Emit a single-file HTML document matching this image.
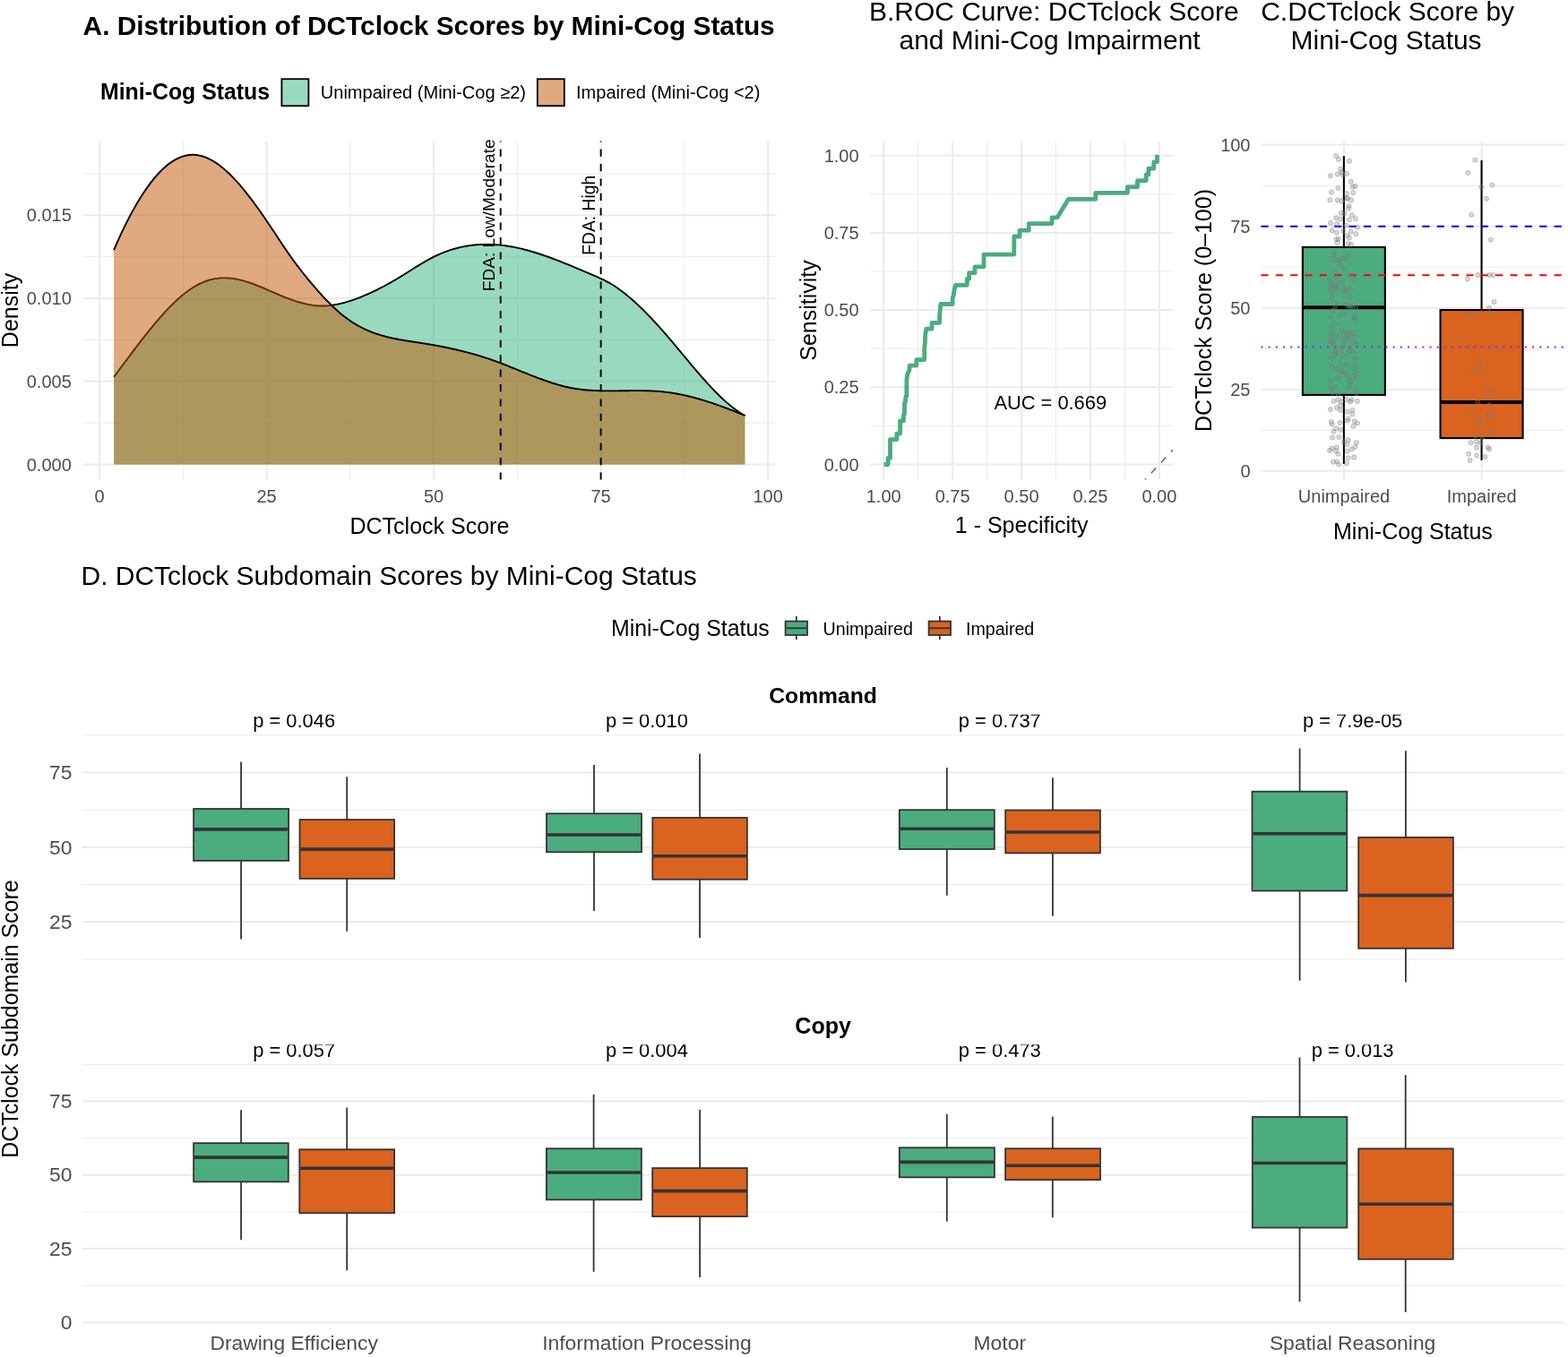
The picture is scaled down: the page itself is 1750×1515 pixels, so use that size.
<!DOCTYPE html>
<html><head><meta charset="utf-8"><title>DCTclock figure</title>
<style>html,body{margin:0;padding:0;background:#fff;} svg{display:block;} text{font-family:"Liberation Sans", Arial, Helvetica, sans-serif;}</style>
</head><body>
<svg width="1750" height="1515" viewBox="0 0 1750 1515" font-family='"Liberation Sans", Arial, Helvetica, sans-serif'>
<rect x="0" y="0" width="1750" height="1515" fill="#FFFFFF"/>
<line x1="204.35" y1="157.4" x2="204.35" y2="535.6" stroke="#EBEBEB" stroke-width="1.0"/>
<line x1="390.85" y1="157.4" x2="390.85" y2="535.6" stroke="#EBEBEB" stroke-width="1.0"/>
<line x1="577.35" y1="157.4" x2="577.35" y2="535.6" stroke="#EBEBEB" stroke-width="1.0"/>
<line x1="763.85" y1="157.4" x2="763.85" y2="535.6" stroke="#EBEBEB" stroke-width="1.0"/>
<line x1="92.3" y1="472.13" x2="866.5" y2="472.13" stroke="#EBEBEB" stroke-width="1.0"/>
<line x1="92.3" y1="379.4" x2="866.5" y2="379.4" stroke="#EBEBEB" stroke-width="1.0"/>
<line x1="92.3" y1="286.67" x2="866.5" y2="286.67" stroke="#EBEBEB" stroke-width="1.0"/>
<line x1="92.3" y1="193.94" x2="866.5" y2="193.94" stroke="#EBEBEB" stroke-width="1.0"/>
<line x1="111.1" y1="157.4" x2="111.1" y2="535.6" stroke="#EBEBEB" stroke-width="2.0"/>
<line x1="297.6" y1="157.4" x2="297.6" y2="535.6" stroke="#EBEBEB" stroke-width="2.0"/>
<line x1="484.1" y1="157.4" x2="484.1" y2="535.6" stroke="#EBEBEB" stroke-width="2.0"/>
<line x1="670.6" y1="157.4" x2="670.6" y2="535.6" stroke="#EBEBEB" stroke-width="2.0"/>
<line x1="857.1" y1="157.4" x2="857.1" y2="535.6" stroke="#EBEBEB" stroke-width="2.0"/>
<line x1="92.3" y1="518.5" x2="866.5" y2="518.5" stroke="#EBEBEB" stroke-width="2.0"/>
<line x1="92.3" y1="425.77" x2="866.5" y2="425.77" stroke="#EBEBEB" stroke-width="2.0"/>
<line x1="92.3" y1="333.04" x2="866.5" y2="333.04" stroke="#EBEBEB" stroke-width="2.0"/>
<line x1="92.3" y1="240.31" x2="866.5" y2="240.31" stroke="#EBEBEB" stroke-width="2.0"/>
<path d="M127.1,420.72 L129.46,417.59 L131.81,414.45 L134.17,411.3 L136.52,408.15 L138.88,404.99 L141.23,401.84 L143.59,398.7 L145.94,395.56 L148.3,392.43 L150.66,389.32 L153.01,386.22 L155.37,383.15 L157.72,380.1 L160.08,377.07 L162.43,374.08 L164.79,371.12 L167.14,368.19 L169.5,365.3 L171.85,362.45 L174.21,359.65 L176.57,356.89 L178.92,354.19 L181.28,351.53 L183.63,348.94 L185.99,346.4 L188.34,343.93 L190.7,341.52 L193.05,339.18 L195.41,336.91 L197.77,334.72 L200.12,332.61 L202.48,330.57 L204.83,328.62 L207.19,326.75 L209.54,324.98 L211.9,323.29 L214.25,321.71 L216.61,320.22 L218.97,318.83 L221.32,317.55 L223.68,316.38 L226.03,315.31 L228.39,314.36 L230.74,313.51 L233.1,312.77 L235.45,312.14 L237.81,311.6 L240.16,311.16 L242.52,310.82 L244.88,310.57 L247.23,310.41 L249.59,310.34 L251.94,310.35 L254.3,310.44 L256.65,310.62 L259.01,310.87 L261.36,311.2 L263.72,311.59 L266.08,312.06 L268.43,312.6 L270.79,313.2 L273.14,313.86 L275.5,314.57 L277.85,315.34 L280.21,316.15 L282.56,317 L284.92,317.89 L287.28,318.82 L289.63,319.77 L291.99,320.75 L294.34,321.74 L296.7,322.76 L299.05,323.78 L301.41,324.8 L303.76,325.83 L306.12,326.86 L308.47,327.87 L310.83,328.88 L313.19,329.87 L315.54,330.84 L317.9,331.78 L320.25,332.71 L322.61,333.6 L324.96,334.46 L327.32,335.29 L329.67,336.08 L332.03,336.82 L334.39,337.53 L336.74,338.19 L339.1,338.79 L341.45,339.35 L343.81,339.85 L346.16,340.29 L348.52,340.67 L350.87,340.98 L353.23,341.22 L355.59,341.4 L357.94,341.5 L360.3,341.52 L362.65,341.47 L365.01,341.34 L367.36,341.14 L369.72,340.88 L372.07,340.55 L374.43,340.15 L376.78,339.7 L379.14,339.19 L381.5,338.63 L383.85,338.02 L386.21,337.35 L388.56,336.65 L390.92,335.9 L393.27,335.11 L395.63,334.28 L397.98,333.42 L400.34,332.53 L402.7,331.6 L405.05,330.65 L407.41,329.66 L409.76,328.65 L412.12,327.6 L414.47,326.53 L416.83,325.42 L419.18,324.29 L421.54,323.13 L423.9,321.95 L426.25,320.73 L428.61,319.49 L430.96,318.22 L433.32,316.93 L435.67,315.61 L438.03,314.27 L440.38,312.9 L442.74,311.51 L445.09,310.1 L447.45,308.66 L449.81,307.2 L452.16,305.73 L454.52,304.24 L456.87,302.75 L459.23,301.26 L461.58,299.77 L463.94,298.29 L466.29,296.83 L468.65,295.38 L471.01,293.96 L473.36,292.56 L475.72,291.2 L478.07,289.88 L480.43,288.61 L482.78,287.38 L485.14,286.2 L487.49,285.08 L489.85,284.02 L492.21,283 L494.56,282.04 L496.92,281.13 L499.27,280.27 L501.63,279.46 L503.98,278.7 L506.34,278 L508.69,277.33 L511.05,276.72 L513.41,276.16 L515.76,275.64 L518.12,275.17 L520.47,274.74 L522.83,274.36 L525.18,274.02 L527.54,273.73 L529.89,273.48 L532.25,273.27 L534.6,273.11 L536.96,272.98 L539.32,272.9 L541.67,272.85 L544.03,272.85 L546.38,272.89 L548.74,272.96 L551.09,273.07 L553.45,273.22 L555.8,273.4 L558.16,273.62 L560.52,273.88 L562.87,274.17 L565.23,274.49 L567.58,274.85 L569.94,275.24 L572.29,275.66 L574.65,276.12 L577,276.6 L579.36,277.12 L581.72,277.66 L584.07,278.24 L586.43,278.84 L588.78,279.47 L591.14,280.12 L593.49,280.8 L595.85,281.5 L598.2,282.22 L600.56,282.97 L602.91,283.74 L605.27,284.52 L607.63,285.33 L609.98,286.16 L612.34,287 L614.69,287.86 L617.05,288.74 L619.4,289.63 L621.76,290.53 L624.11,291.45 L626.47,292.38 L628.83,293.32 L631.18,294.27 L633.54,295.23 L635.89,296.2 L638.25,297.18 L640.6,298.16 L642.96,299.15 L645.31,300.15 L647.67,301.15 L650.03,302.15 L652.38,303.15 L654.74,304.16 L657.09,305.17 L659.45,306.17 L661.8,307.18 L664.16,308.18 L666.51,309.2 L668.87,310.25 L671.22,311.32 L673.58,312.44 L675.94,313.61 L678.29,314.85 L680.65,316.16 L683,317.55 L685.36,319.03 L687.71,320.58 L690.07,322.21 L692.42,323.91 L694.78,325.67 L697.14,327.51 L699.49,329.4 L701.85,331.36 L704.2,333.38 L706.56,335.44 L708.91,337.57 L711.27,339.74 L713.62,341.96 L715.98,344.23 L718.34,346.55 L720.69,348.91 L723.05,351.31 L725.4,353.76 L727.76,356.24 L730.11,358.77 L732.47,361.33 L734.82,363.93 L737.18,366.56 L739.53,369.23 L741.89,371.92 L744.25,374.65 L746.6,377.4 L748.96,380.17 L751.31,382.96 L753.67,385.76 L756.02,388.58 L758.38,391.41 L760.73,394.24 L763.09,397.07 L765.45,399.9 L767.8,402.72 L770.16,405.53 L772.51,408.33 L774.87,411.12 L777.22,413.88 L779.58,416.63 L781.93,419.34 L784.29,422.03 L786.65,424.68 L789,427.29 L791.36,429.87 L793.71,432.4 L796.07,434.88 L798.42,437.32 L800.78,439.69 L803.13,442.01 L805.49,444.27 L807.84,446.47 L810.2,448.59 L812.56,450.65 L814.91,452.63 L817.27,454.53 L819.62,456.35 L821.98,458.08 L824.33,459.73 L826.69,461.28 L829.04,462.73 L831.4,464.09 L831.4,518.5 L127.1,518.5 Z" fill="#33B57D" fill-opacity="0.5" stroke="none"/>
<path d="M127.1,420.72 L129.46,417.59 L131.81,414.45 L134.17,411.3 L136.52,408.15 L138.88,404.99 L141.23,401.84 L143.59,398.7 L145.94,395.56 L148.3,392.43 L150.66,389.32 L153.01,386.22 L155.37,383.15 L157.72,380.1 L160.08,377.07 L162.43,374.08 L164.79,371.12 L167.14,368.19 L169.5,365.3 L171.85,362.45 L174.21,359.65 L176.57,356.89 L178.92,354.19 L181.28,351.53 L183.63,348.94 L185.99,346.4 L188.34,343.93 L190.7,341.52 L193.05,339.18 L195.41,336.91 L197.77,334.72 L200.12,332.61 L202.48,330.57 L204.83,328.62 L207.19,326.75 L209.54,324.98 L211.9,323.29 L214.25,321.71 L216.61,320.22 L218.97,318.83 L221.32,317.55 L223.68,316.38 L226.03,315.31 L228.39,314.36 L230.74,313.51 L233.1,312.77 L235.45,312.14 L237.81,311.6 L240.16,311.16 L242.52,310.82 L244.88,310.57 L247.23,310.41 L249.59,310.34 L251.94,310.35 L254.3,310.44 L256.65,310.62 L259.01,310.87 L261.36,311.2 L263.72,311.59 L266.08,312.06 L268.43,312.6 L270.79,313.2 L273.14,313.86 L275.5,314.57 L277.85,315.34 L280.21,316.15 L282.56,317 L284.92,317.89 L287.28,318.82 L289.63,319.77 L291.99,320.75 L294.34,321.74 L296.7,322.76 L299.05,323.78 L301.41,324.8 L303.76,325.83 L306.12,326.86 L308.47,327.87 L310.83,328.88 L313.19,329.87 L315.54,330.84 L317.9,331.78 L320.25,332.71 L322.61,333.6 L324.96,334.46 L327.32,335.29 L329.67,336.08 L332.03,336.82 L334.39,337.53 L336.74,338.19 L339.1,338.79 L341.45,339.35 L343.81,339.85 L346.16,340.29 L348.52,340.67 L350.87,340.98 L353.23,341.22 L355.59,341.4 L357.94,341.5 L360.3,341.52 L362.65,341.47 L365.01,341.34 L367.36,341.14 L369.72,340.88 L372.07,340.55 L374.43,340.15 L376.78,339.7 L379.14,339.19 L381.5,338.63 L383.85,338.02 L386.21,337.35 L388.56,336.65 L390.92,335.9 L393.27,335.11 L395.63,334.28 L397.98,333.42 L400.34,332.53 L402.7,331.6 L405.05,330.65 L407.41,329.66 L409.76,328.65 L412.12,327.6 L414.47,326.53 L416.83,325.42 L419.18,324.29 L421.54,323.13 L423.9,321.95 L426.25,320.73 L428.61,319.49 L430.96,318.22 L433.32,316.93 L435.67,315.61 L438.03,314.27 L440.38,312.9 L442.74,311.51 L445.09,310.1 L447.45,308.66 L449.81,307.2 L452.16,305.73 L454.52,304.24 L456.87,302.75 L459.23,301.26 L461.58,299.77 L463.94,298.29 L466.29,296.83 L468.65,295.38 L471.01,293.96 L473.36,292.56 L475.72,291.2 L478.07,289.88 L480.43,288.61 L482.78,287.38 L485.14,286.2 L487.49,285.08 L489.85,284.02 L492.21,283 L494.56,282.04 L496.92,281.13 L499.27,280.27 L501.63,279.46 L503.98,278.7 L506.34,278 L508.69,277.33 L511.05,276.72 L513.41,276.16 L515.76,275.64 L518.12,275.17 L520.47,274.74 L522.83,274.36 L525.18,274.02 L527.54,273.73 L529.89,273.48 L532.25,273.27 L534.6,273.11 L536.96,272.98 L539.32,272.9 L541.67,272.85 L544.03,272.85 L546.38,272.89 L548.74,272.96 L551.09,273.07 L553.45,273.22 L555.8,273.4 L558.16,273.62 L560.52,273.88 L562.87,274.17 L565.23,274.49 L567.58,274.85 L569.94,275.24 L572.29,275.66 L574.65,276.12 L577,276.6 L579.36,277.12 L581.72,277.66 L584.07,278.24 L586.43,278.84 L588.78,279.47 L591.14,280.12 L593.49,280.8 L595.85,281.5 L598.2,282.22 L600.56,282.97 L602.91,283.74 L605.27,284.52 L607.63,285.33 L609.98,286.16 L612.34,287 L614.69,287.86 L617.05,288.74 L619.4,289.63 L621.76,290.53 L624.11,291.45 L626.47,292.38 L628.83,293.32 L631.18,294.27 L633.54,295.23 L635.89,296.2 L638.25,297.18 L640.6,298.16 L642.96,299.15 L645.31,300.15 L647.67,301.15 L650.03,302.15 L652.38,303.15 L654.74,304.16 L657.09,305.17 L659.45,306.17 L661.8,307.18 L664.16,308.18 L666.51,309.2 L668.87,310.25 L671.22,311.32 L673.58,312.44 L675.94,313.61 L678.29,314.85 L680.65,316.16 L683,317.55 L685.36,319.03 L687.71,320.58 L690.07,322.21 L692.42,323.91 L694.78,325.67 L697.14,327.51 L699.49,329.4 L701.85,331.36 L704.2,333.38 L706.56,335.44 L708.91,337.57 L711.27,339.74 L713.62,341.96 L715.98,344.23 L718.34,346.55 L720.69,348.91 L723.05,351.31 L725.4,353.76 L727.76,356.24 L730.11,358.77 L732.47,361.33 L734.82,363.93 L737.18,366.56 L739.53,369.23 L741.89,371.92 L744.25,374.65 L746.6,377.4 L748.96,380.17 L751.31,382.96 L753.67,385.76 L756.02,388.58 L758.38,391.41 L760.73,394.24 L763.09,397.07 L765.45,399.9 L767.8,402.72 L770.16,405.53 L772.51,408.33 L774.87,411.12 L777.22,413.88 L779.58,416.63 L781.93,419.34 L784.29,422.03 L786.65,424.68 L789,427.29 L791.36,429.87 L793.71,432.4 L796.07,434.88 L798.42,437.32 L800.78,439.69 L803.13,442.01 L805.49,444.27 L807.84,446.47 L810.2,448.59 L812.56,450.65 L814.91,452.63 L817.27,454.53 L819.62,456.35 L821.98,458.08 L824.33,459.73 L826.69,461.28 L829.04,462.73 L831.4,464.09" fill="none" stroke="#000" stroke-width="1.9" stroke-linejoin="round"/>
<path d="M127.1,279.07 L129.46,273.64 L131.81,268.35 L134.17,263.2 L136.52,258.17 L138.88,253.28 L141.23,248.53 L143.59,243.91 L145.94,239.43 L148.3,235.08 L150.66,230.87 L153.01,226.81 L155.37,222.88 L157.72,219.09 L160.08,215.45 L162.43,211.95 L164.79,208.59 L167.14,205.38 L169.5,202.31 L171.85,199.39 L174.21,196.61 L176.57,193.99 L178.92,191.51 L181.28,189.18 L183.63,187 L185.99,184.98 L188.34,183.1 L190.7,181.38 L193.05,179.82 L195.41,178.41 L197.77,177.15 L200.12,176.05 L202.48,175.11 L204.83,174.33 L207.19,173.7 L209.54,173.24 L211.9,172.94 L214.25,172.79 L216.61,172.82 L218.97,173 L221.32,173.34 L223.68,173.83 L226.03,174.47 L228.39,175.26 L230.74,176.19 L233.1,177.26 L235.45,178.46 L237.81,179.79 L240.16,181.26 L242.52,182.84 L244.88,184.55 L247.23,186.38 L249.59,188.31 L251.94,190.36 L254.3,192.51 L256.65,194.77 L259.01,197.12 L261.36,199.57 L263.72,202.11 L266.08,204.74 L268.43,207.45 L270.79,210.25 L273.14,213.12 L275.5,216.06 L277.85,219.07 L280.21,222.15 L282.56,225.29 L284.92,228.49 L287.28,231.74 L289.63,235.05 L291.99,238.4 L294.34,241.8 L296.7,245.24 L299.05,248.71 L301.41,252.22 L303.76,255.76 L306.12,259.31 L308.47,262.87 L310.83,266.43 L313.19,269.98 L315.54,273.5 L317.9,277 L320.25,280.45 L322.61,283.86 L324.96,287.2 L327.32,290.48 L329.67,293.7 L332.03,296.85 L334.39,299.95 L336.74,302.99 L339.1,305.98 L341.45,308.91 L343.81,311.8 L346.16,314.65 L348.52,317.45 L350.87,320.21 L353.23,322.93 L355.59,325.6 L357.94,328.23 L360.3,330.8 L362.65,333.32 L365.01,335.78 L367.36,338.18 L369.72,340.52 L372.07,342.79 L374.43,345 L376.78,347.13 L379.14,349.18 L381.5,351.16 L383.85,353.05 L386.21,354.86 L388.56,356.59 L390.92,358.23 L393.27,359.79 L395.63,361.27 L397.98,362.67 L400.34,364.01 L402.7,365.27 L405.05,366.46 L407.41,367.59 L409.76,368.66 L412.12,369.67 L414.47,370.62 L416.83,371.52 L419.18,372.36 L421.54,373.15 L423.9,373.9 L426.25,374.61 L428.61,375.27 L430.96,375.89 L433.32,376.48 L435.67,377.04 L438.03,377.56 L440.38,378.05 L442.74,378.52 L445.09,378.97 L447.45,379.39 L449.81,379.8 L452.16,380.19 L454.52,380.57 L456.87,380.94 L459.23,381.31 L461.58,381.66 L463.94,382.02 L466.29,382.37 L468.65,382.73 L471.01,383.1 L473.36,383.47 L475.72,383.85 L478.07,384.24 L480.43,384.64 L482.78,385.05 L485.14,385.47 L487.49,385.9 L489.85,386.34 L492.21,386.79 L494.56,387.26 L496.92,387.73 L499.27,388.22 L501.63,388.71 L503.98,389.22 L506.34,389.75 L508.69,390.29 L511.05,390.84 L513.41,391.4 L515.76,391.98 L518.12,392.57 L520.47,393.18 L522.83,393.8 L525.18,394.44 L527.54,395.1 L529.89,395.77 L532.25,396.45 L534.6,397.16 L536.96,397.88 L539.32,398.62 L541.67,399.38 L544.03,400.15 L546.38,400.94 L548.74,401.76 L551.09,402.59 L553.45,403.44 L555.8,404.31 L558.16,405.19 L560.52,406.09 L562.87,407 L565.23,407.93 L567.58,408.86 L569.94,409.8 L572.29,410.75 L574.65,411.7 L577,412.66 L579.36,413.61 L581.72,414.57 L584.07,415.52 L586.43,416.47 L588.78,417.42 L591.14,418.36 L593.49,419.29 L595.85,420.21 L598.2,421.12 L600.56,422.02 L602.91,422.9 L605.27,423.76 L607.63,424.61 L609.98,425.43 L612.34,426.24 L614.69,427.02 L617.05,427.78 L619.4,428.51 L621.76,429.21 L624.11,429.88 L626.47,430.53 L628.83,431.13 L631.18,431.71 L633.54,432.25 L635.89,432.75 L638.25,433.21 L640.6,433.63 L642.96,434.01 L645.31,434.36 L647.67,434.68 L650.03,434.96 L652.38,435.21 L654.74,435.44 L657.09,435.63 L659.45,435.8 L661.8,435.95 L664.16,436.07 L666.51,436.17 L668.87,436.25 L671.22,436.31 L673.58,436.36 L675.94,436.39 L678.29,436.41 L680.65,436.41 L683,436.41 L685.36,436.39 L687.71,436.37 L690.07,436.35 L692.42,436.32 L694.78,436.28 L697.14,436.25 L699.49,436.22 L701.85,436.19 L704.2,436.16 L706.56,436.14 L708.91,436.13 L711.27,436.12 L713.62,436.13 L715.98,436.15 L718.34,436.18 L720.69,436.22 L723.05,436.29 L725.4,436.37 L727.76,436.47 L730.11,436.59 L732.47,436.73 L734.82,436.9 L737.18,437.1 L739.53,437.32 L741.89,437.57 L744.25,437.85 L746.6,438.17 L748.96,438.51 L751.31,438.87 L753.67,439.27 L756.02,439.69 L758.38,440.14 L760.73,440.62 L763.09,441.12 L765.45,441.65 L767.8,442.2 L770.16,442.77 L772.51,443.37 L774.87,443.98 L777.22,444.62 L779.58,445.28 L781.93,445.97 L784.29,446.67 L786.65,447.39 L789,448.13 L791.36,448.88 L793.71,449.66 L796.07,450.45 L798.42,451.26 L800.78,452.08 L803.13,452.92 L805.49,453.77 L807.84,454.64 L810.2,455.51 L812.56,456.41 L814.91,457.31 L817.27,458.23 L819.62,459.15 L821.98,460.09 L824.33,461.03 L826.69,461.99 L829.04,462.95 L831.4,463.92 L831.4,518.5 L127.1,518.5 Z" fill="#C15300" fill-opacity="0.5" stroke="none"/>
<path d="M127.1,279.07 L129.46,273.64 L131.81,268.35 L134.17,263.2 L136.52,258.17 L138.88,253.28 L141.23,248.53 L143.59,243.91 L145.94,239.43 L148.3,235.08 L150.66,230.87 L153.01,226.81 L155.37,222.88 L157.72,219.09 L160.08,215.45 L162.43,211.95 L164.79,208.59 L167.14,205.38 L169.5,202.31 L171.85,199.39 L174.21,196.61 L176.57,193.99 L178.92,191.51 L181.28,189.18 L183.63,187 L185.99,184.98 L188.34,183.1 L190.7,181.38 L193.05,179.82 L195.41,178.41 L197.77,177.15 L200.12,176.05 L202.48,175.11 L204.83,174.33 L207.19,173.7 L209.54,173.24 L211.9,172.94 L214.25,172.79 L216.61,172.82 L218.97,173 L221.32,173.34 L223.68,173.83 L226.03,174.47 L228.39,175.26 L230.74,176.19 L233.1,177.26 L235.45,178.46 L237.81,179.79 L240.16,181.26 L242.52,182.84 L244.88,184.55 L247.23,186.38 L249.59,188.31 L251.94,190.36 L254.3,192.51 L256.65,194.77 L259.01,197.12 L261.36,199.57 L263.72,202.11 L266.08,204.74 L268.43,207.45 L270.79,210.25 L273.14,213.12 L275.5,216.06 L277.85,219.07 L280.21,222.15 L282.56,225.29 L284.92,228.49 L287.28,231.74 L289.63,235.05 L291.99,238.4 L294.34,241.8 L296.7,245.24 L299.05,248.71 L301.41,252.22 L303.76,255.76 L306.12,259.31 L308.47,262.87 L310.83,266.43 L313.19,269.98 L315.54,273.5 L317.9,277 L320.25,280.45 L322.61,283.86 L324.96,287.2 L327.32,290.48 L329.67,293.7 L332.03,296.85 L334.39,299.95 L336.74,302.99 L339.1,305.98 L341.45,308.91 L343.81,311.8 L346.16,314.65 L348.52,317.45 L350.87,320.21 L353.23,322.93 L355.59,325.6 L357.94,328.23 L360.3,330.8 L362.65,333.32 L365.01,335.78 L367.36,338.18 L369.72,340.52 L372.07,342.79 L374.43,345 L376.78,347.13 L379.14,349.18 L381.5,351.16 L383.85,353.05 L386.21,354.86 L388.56,356.59 L390.92,358.23 L393.27,359.79 L395.63,361.27 L397.98,362.67 L400.34,364.01 L402.7,365.27 L405.05,366.46 L407.41,367.59 L409.76,368.66 L412.12,369.67 L414.47,370.62 L416.83,371.52 L419.18,372.36 L421.54,373.15 L423.9,373.9 L426.25,374.61 L428.61,375.27 L430.96,375.89 L433.32,376.48 L435.67,377.04 L438.03,377.56 L440.38,378.05 L442.74,378.52 L445.09,378.97 L447.45,379.39 L449.81,379.8 L452.16,380.19 L454.52,380.57 L456.87,380.94 L459.23,381.31 L461.58,381.66 L463.94,382.02 L466.29,382.37 L468.65,382.73 L471.01,383.1 L473.36,383.47 L475.72,383.85 L478.07,384.24 L480.43,384.64 L482.78,385.05 L485.14,385.47 L487.49,385.9 L489.85,386.34 L492.21,386.79 L494.56,387.26 L496.92,387.73 L499.27,388.22 L501.63,388.71 L503.98,389.22 L506.34,389.75 L508.69,390.29 L511.05,390.84 L513.41,391.4 L515.76,391.98 L518.12,392.57 L520.47,393.18 L522.83,393.8 L525.18,394.44 L527.54,395.1 L529.89,395.77 L532.25,396.45 L534.6,397.16 L536.96,397.88 L539.32,398.62 L541.67,399.38 L544.03,400.15 L546.38,400.94 L548.74,401.76 L551.09,402.59 L553.45,403.44 L555.8,404.31 L558.16,405.19 L560.52,406.09 L562.87,407 L565.23,407.93 L567.58,408.86 L569.94,409.8 L572.29,410.75 L574.65,411.7 L577,412.66 L579.36,413.61 L581.72,414.57 L584.07,415.52 L586.43,416.47 L588.78,417.42 L591.14,418.36 L593.49,419.29 L595.85,420.21 L598.2,421.12 L600.56,422.02 L602.91,422.9 L605.27,423.76 L607.63,424.61 L609.98,425.43 L612.34,426.24 L614.69,427.02 L617.05,427.78 L619.4,428.51 L621.76,429.21 L624.11,429.88 L626.47,430.53 L628.83,431.13 L631.18,431.71 L633.54,432.25 L635.89,432.75 L638.25,433.21 L640.6,433.63 L642.96,434.01 L645.31,434.36 L647.67,434.68 L650.03,434.96 L652.38,435.21 L654.74,435.44 L657.09,435.63 L659.45,435.8 L661.8,435.95 L664.16,436.07 L666.51,436.17 L668.87,436.25 L671.22,436.31 L673.58,436.36 L675.94,436.39 L678.29,436.41 L680.65,436.41 L683,436.41 L685.36,436.39 L687.71,436.37 L690.07,436.35 L692.42,436.32 L694.78,436.28 L697.14,436.25 L699.49,436.22 L701.85,436.19 L704.2,436.16 L706.56,436.14 L708.91,436.13 L711.27,436.12 L713.62,436.13 L715.98,436.15 L718.34,436.18 L720.69,436.22 L723.05,436.29 L725.4,436.37 L727.76,436.47 L730.11,436.59 L732.47,436.73 L734.82,436.9 L737.18,437.1 L739.53,437.32 L741.89,437.57 L744.25,437.85 L746.6,438.17 L748.96,438.51 L751.31,438.87 L753.67,439.27 L756.02,439.69 L758.38,440.14 L760.73,440.62 L763.09,441.12 L765.45,441.65 L767.8,442.2 L770.16,442.77 L772.51,443.37 L774.87,443.98 L777.22,444.62 L779.58,445.28 L781.93,445.97 L784.29,446.67 L786.65,447.39 L789,448.13 L791.36,448.88 L793.71,449.66 L796.07,450.45 L798.42,451.26 L800.78,452.08 L803.13,452.92 L805.49,453.77 L807.84,454.64 L810.2,455.51 L812.56,456.41 L814.91,457.31 L817.27,458.23 L819.62,459.15 L821.98,460.09 L824.33,461.03 L826.69,461.99 L829.04,462.95 L831.4,463.92" fill="none" stroke="#000" stroke-width="1.9" stroke-linejoin="round"/>
<line x1="558.7" y1="535.6" x2="558.7" y2="157.4" stroke="#000" stroke-width="1.9" stroke-dasharray="8.2 8.2"/>
<line x1="670.6" y1="535.6" x2="670.6" y2="157.4" stroke="#000" stroke-width="1.9" stroke-dasharray="8.2 8.2"/>
<text x="552.1" y="240.31" font-size="19.1" text-anchor="middle" fill="#000" transform="rotate(-90 552.1 240.31)">FDA: Low/Moderate</text>
<text x="664" y="240.31" font-size="19.3" text-anchor="middle" fill="#000" transform="rotate(-90 664 240.31)">FDA: High</text>
<text x="79.8" y="525.6" font-size="20.0" text-anchor="end" fill="#4D4D4D">0.000</text>
<text x="79.8" y="432.87" font-size="20.0" text-anchor="end" fill="#4D4D4D">0.005</text>
<text x="79.8" y="340.14" font-size="20.0" text-anchor="end" fill="#4D4D4D">0.010</text>
<text x="79.8" y="247.41" font-size="20.0" text-anchor="end" fill="#4D4D4D">0.015</text>
<text x="111.1" y="561.1" font-size="20.0" text-anchor="middle" fill="#4D4D4D">0</text>
<text x="297.6" y="561.1" font-size="20.0" text-anchor="middle" fill="#4D4D4D">25</text>
<text x="484.1" y="561.1" font-size="20.0" text-anchor="middle" fill="#4D4D4D">50</text>
<text x="670.6" y="561.1" font-size="20.0" text-anchor="middle" fill="#4D4D4D">75</text>
<text x="857.1" y="561.1" font-size="20.0" text-anchor="middle" fill="#4D4D4D">100</text>
<text x="479.4" y="595.6" font-size="25.0" text-anchor="middle" fill="#000">DCTclock Score</text>
<text x="19.8" y="346.5" font-size="25.0" text-anchor="middle" fill="#000" transform="rotate(-90 19.8 346.5)">Density</text>
<text x="92.6" y="39.3" font-size="29.85" text-anchor="start" font-weight="bold" fill="#000">A. Distribution of DCTclock Scores by Mini-Cog Status</text>
<text x="112" y="111.4" font-size="24.85" text-anchor="start" font-weight="bold" fill="#000">Mini-Cog Status</text>
<rect x="314.4" y="88.2" width="30" height="30" fill="#fff" stroke="none"/>
<rect x="314.4" y="88.2" width="30" height="30" fill="#33B57D" fill-opacity="0.5" stroke="#000" stroke-width="1.8"/>
<text x="357.8" y="110.2" font-size="20.05" text-anchor="start" fill="#000">Unimpaired (Mini-Cog ≥2)</text>
<rect x="599.8" y="88.2" width="30" height="30" fill="#C15300" fill-opacity="0.5" stroke="#000" stroke-width="1.8"/>
<text x="643" y="110.2" font-size="20.05" text-anchor="start" fill="#000">Impaired (Mini-Cog &lt;2)</text>
<line x1="970.9" y1="475.31" x2="1309.4" y2="475.31" stroke="#EBEBEB" stroke-width="1.0"/>
<line x1="1255.44" y1="157.4" x2="1255.44" y2="535.5" stroke="#EBEBEB" stroke-width="1.0"/>
<line x1="970.9" y1="389.14" x2="1309.4" y2="389.14" stroke="#EBEBEB" stroke-width="1.0"/>
<line x1="1178.51" y1="157.4" x2="1178.51" y2="535.5" stroke="#EBEBEB" stroke-width="1.0"/>
<line x1="970.9" y1="302.96" x2="1309.4" y2="302.96" stroke="#EBEBEB" stroke-width="1.0"/>
<line x1="1101.59" y1="157.4" x2="1101.59" y2="535.5" stroke="#EBEBEB" stroke-width="1.0"/>
<line x1="970.9" y1="216.79" x2="1309.4" y2="216.79" stroke="#EBEBEB" stroke-width="1.0"/>
<line x1="1024.66" y1="157.4" x2="1024.66" y2="535.5" stroke="#EBEBEB" stroke-width="1.0"/>
<line x1="970.9" y1="518.4" x2="1309.4" y2="518.4" stroke="#EBEBEB" stroke-width="2.0"/>
<line x1="1293.9" y1="157.4" x2="1293.9" y2="535.5" stroke="#EBEBEB" stroke-width="2.0"/>
<line x1="970.9" y1="432.22" x2="1309.4" y2="432.22" stroke="#EBEBEB" stroke-width="2.0"/>
<line x1="1216.98" y1="157.4" x2="1216.98" y2="535.5" stroke="#EBEBEB" stroke-width="2.0"/>
<line x1="970.9" y1="346.05" x2="1309.4" y2="346.05" stroke="#EBEBEB" stroke-width="2.0"/>
<line x1="1140.05" y1="157.4" x2="1140.05" y2="535.5" stroke="#EBEBEB" stroke-width="2.0"/>
<line x1="970.9" y1="259.88" x2="1309.4" y2="259.88" stroke="#EBEBEB" stroke-width="2.0"/>
<line x1="1063.12" y1="157.4" x2="1063.12" y2="535.5" stroke="#EBEBEB" stroke-width="2.0"/>
<line x1="970.9" y1="173.7" x2="1309.4" y2="173.7" stroke="#EBEBEB" stroke-width="2.0"/>
<line x1="986.2" y1="157.4" x2="986.2" y2="535.5" stroke="#EBEBEB" stroke-width="2.0"/>
<clipPath id="clipB"><rect x="970.9" y="157.4" width="338.5000000000001" height="378.1"/></clipPath>
<line x1="1277.8" y1="535.8" x2="1309.1" y2="502.2" stroke="#666666" stroke-width="1.5" stroke-dasharray="8 8.25" stroke-dashoffset="5.99" clip-path="url(#clipB)"/>
<path d="M986.6,518.5 L991.1,518.5 L991.1,511.5 L993.5,511.5 L993.5,490.7 L1000.8,490.7 L1000.8,484.1 L1004.6,484.1 L1004.6,469.9 L1008.4,469.9 L1008.4,463.3 L1009.5,462.3 L1009.5,449.8 L1010.5,449.1 L1010.9,442.9 L1011.9,442.2 L1011.9,424 L1012.9,417.4 L1014.9,413.4 L1015.2,408.2 L1022.8,408.2 L1022.8,401.6 L1031.7,401.6 L1031.7,387.7 L1032.4,383.1 L1032.7,374.5 L1033.7,367.2 L1040,367.2 L1040,360.3 L1048.6,360.3 L1048.6,353.4 L1049.9,339.5 L1063.1,339.5 L1063.1,332.9 L1064.4,329 L1064.8,325 L1066.4,318.3 L1079.3,318.3 L1079.3,311.3 L1081.6,311.3 L1081.6,304.7 L1088,304.7 L1088,297.8 L1098,297.8 L1098,284.1 L1131.8,284.1 L1131.8,264 L1138.1,264 L1138.1,257.2 L1148.2,257.2 L1148.2,249.6 L1174.1,249.6 L1174.1,242.9 L1179.9,242.9 L1192.3,222.4 L1222.7,222.4 L1222.7,215.3 L1258.4,215.3 L1258.4,208.7 L1269.5,208.7 L1269.5,201.6 L1279.2,201.6 L1279.2,194.9 L1281.8,194.9 L1281.8,188.2 L1287.7,188.2 L1287.7,180.8 L1291.4,180.8 L1291.4,172.8" fill="none" stroke="#4BAC7E" stroke-width="4.8" stroke-linejoin="round" stroke-linecap="butt"/>
<text x="1109.4" y="457" font-size="21.85" text-anchor="start" fill="#000">AUC = 0.669</text>
<text x="958.6" y="525.5" font-size="20.0" text-anchor="end" fill="#4D4D4D">0.00</text>
<text x="1293.9" y="561.1" font-size="20.0" text-anchor="middle" fill="#4D4D4D">0.00</text>
<text x="958.6" y="439.32" font-size="20.0" text-anchor="end" fill="#4D4D4D">0.25</text>
<text x="1216.98" y="561.1" font-size="20.0" text-anchor="middle" fill="#4D4D4D">0.25</text>
<text x="958.6" y="353.15" font-size="20.0" text-anchor="end" fill="#4D4D4D">0.50</text>
<text x="1140.05" y="561.1" font-size="20.0" text-anchor="middle" fill="#4D4D4D">0.50</text>
<text x="958.6" y="266.98" font-size="20.0" text-anchor="end" fill="#4D4D4D">0.75</text>
<text x="1063.12" y="561.1" font-size="20.0" text-anchor="middle" fill="#4D4D4D">0.75</text>
<text x="958.6" y="180.8" font-size="20.0" text-anchor="end" fill="#4D4D4D">1.00</text>
<text x="986.2" y="561.1" font-size="20.0" text-anchor="middle" fill="#4D4D4D">1.00</text>
<text x="1140.15" y="594.9" font-size="25.0" text-anchor="middle" fill="#000">1 - Specificity</text>
<text x="911.3" y="346.45" font-size="25.0" text-anchor="middle" fill="#000" transform="rotate(-90 911.3 346.45)">Sensitivity</text>
<text x="1176.3" y="22.6" font-size="29.95" text-anchor="middle" fill="#000">B.ROC Curve: DCTclock Score</text>
<text x="1171.6" y="54.8" font-size="29.95" text-anchor="middle" fill="#000">and Mini-Cog Impairment</text>
<line x1="1407.7" y1="480.32" x2="1746.2" y2="480.32" stroke="#EBEBEB" stroke-width="1.0"/>
<line x1="1407.7" y1="389.26" x2="1746.2" y2="389.26" stroke="#EBEBEB" stroke-width="1.0"/>
<line x1="1407.7" y1="298.19" x2="1746.2" y2="298.19" stroke="#EBEBEB" stroke-width="1.0"/>
<line x1="1407.7" y1="207.13" x2="1746.2" y2="207.13" stroke="#EBEBEB" stroke-width="1.0"/>
<line x1="1407.7" y1="525.85" x2="1746.2" y2="525.85" stroke="#EBEBEB" stroke-width="2.0"/>
<line x1="1407.7" y1="434.79" x2="1746.2" y2="434.79" stroke="#EBEBEB" stroke-width="2.0"/>
<line x1="1407.7" y1="343.73" x2="1746.2" y2="343.73" stroke="#EBEBEB" stroke-width="2.0"/>
<line x1="1407.7" y1="252.66" x2="1746.2" y2="252.66" stroke="#EBEBEB" stroke-width="2.0"/>
<line x1="1407.7" y1="161.6" x2="1746.2" y2="161.6" stroke="#EBEBEB" stroke-width="2.0"/>
<line x1="1500" y1="157.4" x2="1500" y2="535.5" stroke="#EBEBEB" stroke-width="2.0"/>
<line x1="1653.7" y1="157.4" x2="1653.7" y2="535.5" stroke="#EBEBEB" stroke-width="2.0"/>
<line x1="1499.85" y1="174.2" x2="1499.85" y2="275.95" stroke="#000" stroke-width="2.05"/>
<line x1="1499.85" y1="440.9" x2="1499.85" y2="518" stroke="#000" stroke-width="2.05"/>
<rect x="1453.85" y="275.95" width="92" height="164.95" fill="#4BAC7E" stroke="#000" stroke-width="2.1"/>
<line x1="1453.85" y1="343.2" x2="1545.85" y2="343.2" stroke="#000" stroke-width="4.1"/>
<line x1="1653.55" y1="179" x2="1653.55" y2="346.05" stroke="#000" stroke-width="2.05"/>
<line x1="1653.55" y1="489.1" x2="1653.55" y2="513.9" stroke="#000" stroke-width="2.05"/>
<rect x="1607.55" y="346.05" width="92" height="143.05" fill="#D9631F" stroke="#000" stroke-width="2.1"/>
<line x1="1607.55" y1="449" x2="1699.55" y2="449" stroke="#000" stroke-width="4.1"/>
<line x1="1407.4" y1="252.66" x2="1746.2" y2="252.66" stroke="#0000FF" stroke-width="2.05" stroke-dasharray="8.18 8.18"/>
<line x1="1407.4" y1="307.3" x2="1746.2" y2="307.3" stroke="#FF0000" stroke-width="2.05" stroke-dasharray="8.18 8.18"/>
<line x1="1407.4" y1="387.44" x2="1746.2" y2="387.44" stroke="#A020F0" stroke-width="2.05" stroke-dasharray="2.05 6.13"/>
<circle cx="1491" cy="173.9" r="2.55" fill="#808080" fill-opacity="0.3" stroke="#787878" stroke-opacity="0.5" stroke-width="0.8"/>
<circle cx="1494" cy="177.9" r="2.55" fill="#808080" fill-opacity="0.3" stroke="#787878" stroke-opacity="0.5" stroke-width="0.8"/>
<circle cx="1506" cy="179.9" r="2.55" fill="#808080" fill-opacity="0.3" stroke="#787878" stroke-opacity="0.5" stroke-width="0.8"/>
<circle cx="1495.9" cy="188.8" r="2.55" fill="#808080" fill-opacity="0.3" stroke="#787878" stroke-opacity="0.5" stroke-width="0.8"/>
<circle cx="1497.3" cy="192.3" r="2.55" fill="#808080" fill-opacity="0.3" stroke="#787878" stroke-opacity="0.5" stroke-width="0.8"/>
<circle cx="1484.9" cy="196.3" r="2.55" fill="#808080" fill-opacity="0.3" stroke="#787878" stroke-opacity="0.5" stroke-width="0.8"/>
<circle cx="1492.8" cy="194.5" r="2.55" fill="#808080" fill-opacity="0.3" stroke="#787878" stroke-opacity="0.5" stroke-width="0.8"/>
<circle cx="1503.3" cy="193.7" r="2.55" fill="#808080" fill-opacity="0.3" stroke="#787878" stroke-opacity="0.5" stroke-width="0.8"/>
<circle cx="1498.5" cy="195.1" r="2.55" fill="#808080" fill-opacity="0.3" stroke="#787878" stroke-opacity="0.5" stroke-width="0.8"/>
<circle cx="1507.8" cy="202.8" r="2.55" fill="#808080" fill-opacity="0.3" stroke="#787878" stroke-opacity="0.5" stroke-width="0.8"/>
<circle cx="1509.6" cy="208.6" r="2.55" fill="#808080" fill-opacity="0.3" stroke="#787878" stroke-opacity="0.5" stroke-width="0.8"/>
<circle cx="1512.6" cy="207.8" r="2.55" fill="#808080" fill-opacity="0.3" stroke="#787878" stroke-opacity="0.5" stroke-width="0.8"/>
<circle cx="1493.4" cy="210" r="2.55" fill="#808080" fill-opacity="0.3" stroke="#787878" stroke-opacity="0.5" stroke-width="0.8"/>
<circle cx="1486" cy="214.5" r="2.55" fill="#808080" fill-opacity="0.3" stroke="#787878" stroke-opacity="0.5" stroke-width="0.8"/>
<circle cx="1510.2" cy="215.1" r="2.55" fill="#808080" fill-opacity="0.3" stroke="#787878" stroke-opacity="0.5" stroke-width="0.8"/>
<circle cx="1502.9" cy="216.1" r="2.55" fill="#808080" fill-opacity="0.3" stroke="#787878" stroke-opacity="0.5" stroke-width="0.8"/>
<circle cx="1503.7" cy="221.2" r="2.55" fill="#808080" fill-opacity="0.3" stroke="#787878" stroke-opacity="0.5" stroke-width="0.8"/>
<circle cx="1484.3" cy="223.2" r="2.55" fill="#808080" fill-opacity="0.3" stroke="#787878" stroke-opacity="0.5" stroke-width="0.8"/>
<circle cx="1492.8" cy="223.4" r="2.55" fill="#808080" fill-opacity="0.3" stroke="#787878" stroke-opacity="0.5" stroke-width="0.8"/>
<circle cx="1497.3" cy="224.4" r="2.55" fill="#808080" fill-opacity="0.3" stroke="#787878" stroke-opacity="0.5" stroke-width="0.8"/>
<circle cx="1503.7" cy="221.6" r="2.55" fill="#808080" fill-opacity="0.3" stroke="#787878" stroke-opacity="0.5" stroke-width="0.8"/>
<circle cx="1508" cy="223.4" r="2.55" fill="#808080" fill-opacity="0.3" stroke="#787878" stroke-opacity="0.5" stroke-width="0.8"/>
<circle cx="1505.6" cy="229.9" r="2.55" fill="#808080" fill-opacity="0.3" stroke="#787878" stroke-opacity="0.5" stroke-width="0.8"/>
<circle cx="1504.9" cy="232.7" r="2.55" fill="#808080" fill-opacity="0.3" stroke="#787878" stroke-opacity="0.5" stroke-width="0.8"/>
<circle cx="1496.9" cy="237.8" r="2.55" fill="#808080" fill-opacity="0.3" stroke="#787878" stroke-opacity="0.5" stroke-width="0.8"/>
<circle cx="1500.7" cy="238.2" r="2.55" fill="#808080" fill-opacity="0.3" stroke="#787878" stroke-opacity="0.5" stroke-width="0.8"/>
<circle cx="1509" cy="240.2" r="2.55" fill="#808080" fill-opacity="0.3" stroke="#787878" stroke-opacity="0.5" stroke-width="0.8"/>
<circle cx="1491.2" cy="243.4" r="2.55" fill="#808080" fill-opacity="0.3" stroke="#787878" stroke-opacity="0.5" stroke-width="0.8"/>
<circle cx="1496.1" cy="244.6" r="2.55" fill="#808080" fill-opacity="0.3" stroke="#787878" stroke-opacity="0.5" stroke-width="0.8"/>
<circle cx="1505.8" cy="245.3" r="2.55" fill="#808080" fill-opacity="0.3" stroke="#787878" stroke-opacity="0.5" stroke-width="0.8"/>
<circle cx="1512.8" cy="244.2" r="2.55" fill="#808080" fill-opacity="0.3" stroke="#787878" stroke-opacity="0.5" stroke-width="0.8"/>
<circle cx="1485" cy="248.9" r="2.55" fill="#808080" fill-opacity="0.3" stroke="#787878" stroke-opacity="0.5" stroke-width="0.8"/>
<circle cx="1492.2" cy="250.1" r="2.55" fill="#808080" fill-opacity="0.3" stroke="#787878" stroke-opacity="0.5" stroke-width="0.8"/>
<circle cx="1502.5" cy="251.7" r="2.55" fill="#808080" fill-opacity="0.3" stroke="#787878" stroke-opacity="0.5" stroke-width="0.8"/>
<circle cx="1514.8" cy="253.7" r="2.55" fill="#808080" fill-opacity="0.3" stroke="#787878" stroke-opacity="0.5" stroke-width="0.8"/>
<circle cx="1486.6" cy="257.2" r="2.55" fill="#808080" fill-opacity="0.3" stroke="#787878" stroke-opacity="0.5" stroke-width="0.8"/>
<circle cx="1491.8" cy="259.8" r="2.55" fill="#808080" fill-opacity="0.3" stroke="#787878" stroke-opacity="0.5" stroke-width="0.8"/>
<circle cx="1499.3" cy="258" r="2.55" fill="#808080" fill-opacity="0.3" stroke="#787878" stroke-opacity="0.5" stroke-width="0.8"/>
<circle cx="1507.6" cy="258.8" r="2.55" fill="#808080" fill-opacity="0.3" stroke="#787878" stroke-opacity="0.5" stroke-width="0.8"/>
<circle cx="1513.4" cy="261" r="2.55" fill="#808080" fill-opacity="0.3" stroke="#787878" stroke-opacity="0.5" stroke-width="0.8"/>
<circle cx="1503.7" cy="262.8" r="2.55" fill="#808080" fill-opacity="0.3" stroke="#787878" stroke-opacity="0.5" stroke-width="0.8"/>
<circle cx="1506" cy="265.5" r="2.55" fill="#808080" fill-opacity="0.3" stroke="#787878" stroke-opacity="0.5" stroke-width="0.8"/>
<circle cx="1491.4" cy="267.1" r="2.55" fill="#808080" fill-opacity="0.3" stroke="#787878" stroke-opacity="0.5" stroke-width="0.8"/>
<circle cx="1493.8" cy="266.7" r="2.55" fill="#808080" fill-opacity="0.3" stroke="#787878" stroke-opacity="0.5" stroke-width="0.8"/>
<circle cx="1492.6" cy="271.1" r="2.55" fill="#808080" fill-opacity="0.3" stroke="#787878" stroke-opacity="0.5" stroke-width="0.8"/>
<circle cx="1504.9" cy="271.9" r="2.55" fill="#808080" fill-opacity="0.3" stroke="#787878" stroke-opacity="0.5" stroke-width="0.8"/>
<circle cx="1508" cy="273.1" r="2.55" fill="#808080" fill-opacity="0.3" stroke="#787878" stroke-opacity="0.5" stroke-width="0.8"/>
<circle cx="1488.5" cy="447.9" r="2.55" fill="#808080" fill-opacity="0.3" stroke="#787878" stroke-opacity="0.5" stroke-width="0.8"/>
<circle cx="1493.6" cy="446.2" r="2.55" fill="#808080" fill-opacity="0.3" stroke="#787878" stroke-opacity="0.5" stroke-width="0.8"/>
<circle cx="1496.9" cy="448.4" r="2.55" fill="#808080" fill-opacity="0.3" stroke="#787878" stroke-opacity="0.5" stroke-width="0.8"/>
<circle cx="1503.1" cy="446.2" r="2.55" fill="#808080" fill-opacity="0.3" stroke="#787878" stroke-opacity="0.5" stroke-width="0.8"/>
<circle cx="1507" cy="448.4" r="2.55" fill="#808080" fill-opacity="0.3" stroke="#787878" stroke-opacity="0.5" stroke-width="0.8"/>
<circle cx="1508.7" cy="446.2" r="2.55" fill="#808080" fill-opacity="0.3" stroke="#787878" stroke-opacity="0.5" stroke-width="0.8"/>
<circle cx="1514.9" cy="447.9" r="2.55" fill="#808080" fill-opacity="0.3" stroke="#787878" stroke-opacity="0.5" stroke-width="0.8"/>
<circle cx="1484.9" cy="457.1" r="2.55" fill="#808080" fill-opacity="0.3" stroke="#787878" stroke-opacity="0.5" stroke-width="0.8"/>
<circle cx="1491.9" cy="455.2" r="2.55" fill="#808080" fill-opacity="0.3" stroke="#787878" stroke-opacity="0.5" stroke-width="0.8"/>
<circle cx="1495.8" cy="458" r="2.55" fill="#808080" fill-opacity="0.3" stroke="#787878" stroke-opacity="0.5" stroke-width="0.8"/>
<circle cx="1495.8" cy="452.9" r="2.55" fill="#808080" fill-opacity="0.3" stroke="#787878" stroke-opacity="0.5" stroke-width="0.8"/>
<circle cx="1503.7" cy="459.6" r="2.55" fill="#808080" fill-opacity="0.3" stroke="#787878" stroke-opacity="0.5" stroke-width="0.8"/>
<circle cx="1509.3" cy="458" r="2.55" fill="#808080" fill-opacity="0.3" stroke="#787878" stroke-opacity="0.5" stroke-width="0.8"/>
<circle cx="1509.3" cy="462.4" r="2.55" fill="#808080" fill-opacity="0.3" stroke="#787878" stroke-opacity="0.5" stroke-width="0.8"/>
<circle cx="1504.8" cy="467.5" r="2.55" fill="#808080" fill-opacity="0.3" stroke="#787878" stroke-opacity="0.5" stroke-width="0.8"/>
<circle cx="1503.7" cy="469.7" r="2.55" fill="#808080" fill-opacity="0.3" stroke="#787878" stroke-opacity="0.5" stroke-width="0.8"/>
<circle cx="1485.7" cy="470.9" r="2.55" fill="#808080" fill-opacity="0.3" stroke="#787878" stroke-opacity="0.5" stroke-width="0.8"/>
<circle cx="1486.8" cy="473.7" r="2.55" fill="#808080" fill-opacity="0.3" stroke="#787878" stroke-opacity="0.5" stroke-width="0.8"/>
<circle cx="1495.3" cy="472" r="2.55" fill="#808080" fill-opacity="0.3" stroke="#787878" stroke-opacity="0.5" stroke-width="0.8"/>
<circle cx="1511.5" cy="470.3" r="2.55" fill="#808080" fill-opacity="0.3" stroke="#787878" stroke-opacity="0.5" stroke-width="0.8"/>
<circle cx="1514.9" cy="472.5" r="2.55" fill="#808080" fill-opacity="0.3" stroke="#787878" stroke-opacity="0.5" stroke-width="0.8"/>
<circle cx="1510.4" cy="475.9" r="2.55" fill="#808080" fill-opacity="0.3" stroke="#787878" stroke-opacity="0.5" stroke-width="0.8"/>
<circle cx="1491.3" cy="478.2" r="2.55" fill="#808080" fill-opacity="0.3" stroke="#787878" stroke-opacity="0.5" stroke-width="0.8"/>
<circle cx="1496.4" cy="479.8" r="2.55" fill="#808080" fill-opacity="0.3" stroke="#787878" stroke-opacity="0.5" stroke-width="0.8"/>
<circle cx="1488.5" cy="481.8" r="2.55" fill="#808080" fill-opacity="0.3" stroke="#787878" stroke-opacity="0.5" stroke-width="0.8"/>
<circle cx="1487.1" cy="488.5" r="2.55" fill="#808080" fill-opacity="0.3" stroke="#787878" stroke-opacity="0.5" stroke-width="0.8"/>
<circle cx="1494.4" cy="488" r="2.55" fill="#808080" fill-opacity="0.3" stroke="#787878" stroke-opacity="0.5" stroke-width="0.8"/>
<circle cx="1504.8" cy="491.3" r="2.55" fill="#808080" fill-opacity="0.3" stroke="#787878" stroke-opacity="0.5" stroke-width="0.8"/>
<circle cx="1499.7" cy="493.3" r="2.55" fill="#808080" fill-opacity="0.3" stroke="#787878" stroke-opacity="0.5" stroke-width="0.8"/>
<circle cx="1503.7" cy="496.1" r="2.55" fill="#808080" fill-opacity="0.3" stroke="#787878" stroke-opacity="0.5" stroke-width="0.8"/>
<circle cx="1513.8" cy="494.2" r="2.55" fill="#808080" fill-opacity="0.3" stroke="#787878" stroke-opacity="0.5" stroke-width="0.8"/>
<circle cx="1512.6" cy="498.9" r="2.55" fill="#808080" fill-opacity="0.3" stroke="#787878" stroke-opacity="0.5" stroke-width="0.8"/>
<circle cx="1508.7" cy="501.4" r="2.55" fill="#808080" fill-opacity="0.3" stroke="#787878" stroke-opacity="0.5" stroke-width="0.8"/>
<circle cx="1503.7" cy="503.7" r="2.55" fill="#808080" fill-opacity="0.3" stroke="#787878" stroke-opacity="0.5" stroke-width="0.8"/>
<circle cx="1486.3" cy="500.6" r="2.55" fill="#808080" fill-opacity="0.3" stroke="#787878" stroke-opacity="0.5" stroke-width="0.8"/>
<circle cx="1484" cy="502.9" r="2.55" fill="#808080" fill-opacity="0.3" stroke="#787878" stroke-opacity="0.5" stroke-width="0.8"/>
<circle cx="1491.9" cy="499.5" r="2.55" fill="#808080" fill-opacity="0.3" stroke="#787878" stroke-opacity="0.5" stroke-width="0.8"/>
<circle cx="1490.8" cy="503.4" r="2.55" fill="#808080" fill-opacity="0.3" stroke="#787878" stroke-opacity="0.5" stroke-width="0.8"/>
<circle cx="1493.3" cy="506.8" r="2.55" fill="#808080" fill-opacity="0.3" stroke="#787878" stroke-opacity="0.5" stroke-width="0.8"/>
<circle cx="1504.8" cy="511.3" r="2.55" fill="#808080" fill-opacity="0.3" stroke="#787878" stroke-opacity="0.5" stroke-width="0.8"/>
<circle cx="1511.2" cy="510.4" r="2.55" fill="#808080" fill-opacity="0.3" stroke="#787878" stroke-opacity="0.5" stroke-width="0.8"/>
<circle cx="1488" cy="515.8" r="2.55" fill="#808080" fill-opacity="0.3" stroke="#787878" stroke-opacity="0.5" stroke-width="0.8"/>
<circle cx="1491.9" cy="515.2" r="2.55" fill="#808080" fill-opacity="0.3" stroke="#787878" stroke-opacity="0.5" stroke-width="0.8"/>
<circle cx="1494.1" cy="518.3" r="2.55" fill="#808080" fill-opacity="0.3" stroke="#787878" stroke-opacity="0.5" stroke-width="0.8"/>
<circle cx="1503.1" cy="517.2" r="2.55" fill="#808080" fill-opacity="0.3" stroke="#787878" stroke-opacity="0.5" stroke-width="0.8"/>
<circle cx="1497.57" cy="369.12" r="2.55" fill="#808080" fill-opacity="0.3" stroke="#787878" stroke-opacity="0.5" stroke-width="0.8"/>
<circle cx="1511.73" cy="353.97" r="2.55" fill="#808080" fill-opacity="0.3" stroke="#787878" stroke-opacity="0.5" stroke-width="0.8"/>
<circle cx="1499.24" cy="373.57" r="2.55" fill="#808080" fill-opacity="0.3" stroke="#787878" stroke-opacity="0.5" stroke-width="0.8"/>
<circle cx="1489.54" cy="361.42" r="2.55" fill="#808080" fill-opacity="0.3" stroke="#787878" stroke-opacity="0.5" stroke-width="0.8"/>
<circle cx="1502.9" cy="406.67" r="2.55" fill="#808080" fill-opacity="0.3" stroke="#787878" stroke-opacity="0.5" stroke-width="0.8"/>
<circle cx="1486.82" cy="327.85" r="2.55" fill="#808080" fill-opacity="0.3" stroke="#787878" stroke-opacity="0.5" stroke-width="0.8"/>
<circle cx="1486.72" cy="409.35" r="2.55" fill="#808080" fill-opacity="0.3" stroke="#787878" stroke-opacity="0.5" stroke-width="0.8"/>
<circle cx="1504.8" cy="285.74" r="2.55" fill="#808080" fill-opacity="0.3" stroke="#787878" stroke-opacity="0.5" stroke-width="0.8"/>
<circle cx="1513.47" cy="434.33" r="2.55" fill="#808080" fill-opacity="0.3" stroke="#787878" stroke-opacity="0.5" stroke-width="0.8"/>
<circle cx="1503.62" cy="378.11" r="2.55" fill="#808080" fill-opacity="0.3" stroke="#787878" stroke-opacity="0.5" stroke-width="0.8"/>
<circle cx="1488.72" cy="281.42" r="2.55" fill="#808080" fill-opacity="0.3" stroke="#787878" stroke-opacity="0.5" stroke-width="0.8"/>
<circle cx="1499.85" cy="288.59" r="2.55" fill="#808080" fill-opacity="0.3" stroke="#787878" stroke-opacity="0.5" stroke-width="0.8"/>
<circle cx="1489.71" cy="317.95" r="2.55" fill="#808080" fill-opacity="0.3" stroke="#787878" stroke-opacity="0.5" stroke-width="0.8"/>
<circle cx="1484.9" cy="353.69" r="2.55" fill="#808080" fill-opacity="0.3" stroke="#787878" stroke-opacity="0.5" stroke-width="0.8"/>
<circle cx="1497.22" cy="414.63" r="2.55" fill="#808080" fill-opacity="0.3" stroke="#787878" stroke-opacity="0.5" stroke-width="0.8"/>
<circle cx="1499.57" cy="382.09" r="2.55" fill="#808080" fill-opacity="0.3" stroke="#787878" stroke-opacity="0.5" stroke-width="0.8"/>
<circle cx="1498.99" cy="385.65" r="2.55" fill="#808080" fill-opacity="0.3" stroke="#787878" stroke-opacity="0.5" stroke-width="0.8"/>
<circle cx="1497.72" cy="323.78" r="2.55" fill="#808080" fill-opacity="0.3" stroke="#787878" stroke-opacity="0.5" stroke-width="0.8"/>
<circle cx="1513.93" cy="439.31" r="2.55" fill="#808080" fill-opacity="0.3" stroke="#787878" stroke-opacity="0.5" stroke-width="0.8"/>
<circle cx="1509.21" cy="392.96" r="2.55" fill="#808080" fill-opacity="0.3" stroke="#787878" stroke-opacity="0.5" stroke-width="0.8"/>
<circle cx="1493.46" cy="315.98" r="2.55" fill="#808080" fill-opacity="0.3" stroke="#787878" stroke-opacity="0.5" stroke-width="0.8"/>
<circle cx="1492.67" cy="290.31" r="2.55" fill="#808080" fill-opacity="0.3" stroke="#787878" stroke-opacity="0.5" stroke-width="0.8"/>
<circle cx="1506.99" cy="343.46" r="2.55" fill="#808080" fill-opacity="0.3" stroke="#787878" stroke-opacity="0.5" stroke-width="0.8"/>
<circle cx="1509.4" cy="341.23" r="2.55" fill="#808080" fill-opacity="0.3" stroke="#787878" stroke-opacity="0.5" stroke-width="0.8"/>
<circle cx="1512.74" cy="415.42" r="2.55" fill="#808080" fill-opacity="0.3" stroke="#787878" stroke-opacity="0.5" stroke-width="0.8"/>
<circle cx="1484.02" cy="312.76" r="2.55" fill="#808080" fill-opacity="0.3" stroke="#787878" stroke-opacity="0.5" stroke-width="0.8"/>
<circle cx="1511.31" cy="354.67" r="2.55" fill="#808080" fill-opacity="0.3" stroke="#787878" stroke-opacity="0.5" stroke-width="0.8"/>
<circle cx="1513.41" cy="342.99" r="2.55" fill="#808080" fill-opacity="0.3" stroke="#787878" stroke-opacity="0.5" stroke-width="0.8"/>
<circle cx="1486.19" cy="380.34" r="2.55" fill="#808080" fill-opacity="0.3" stroke="#787878" stroke-opacity="0.5" stroke-width="0.8"/>
<circle cx="1507.36" cy="322.43" r="2.55" fill="#808080" fill-opacity="0.3" stroke="#787878" stroke-opacity="0.5" stroke-width="0.8"/>
<circle cx="1486.61" cy="332.55" r="2.55" fill="#808080" fill-opacity="0.3" stroke="#787878" stroke-opacity="0.5" stroke-width="0.8"/>
<circle cx="1512.92" cy="401.04" r="2.55" fill="#808080" fill-opacity="0.3" stroke="#787878" stroke-opacity="0.5" stroke-width="0.8"/>
<circle cx="1487.54" cy="318.67" r="2.55" fill="#808080" fill-opacity="0.3" stroke="#787878" stroke-opacity="0.5" stroke-width="0.8"/>
<circle cx="1487.03" cy="288.64" r="2.55" fill="#808080" fill-opacity="0.3" stroke="#787878" stroke-opacity="0.5" stroke-width="0.8"/>
<circle cx="1507.91" cy="307.61" r="2.55" fill="#808080" fill-opacity="0.3" stroke="#787878" stroke-opacity="0.5" stroke-width="0.8"/>
<circle cx="1500.78" cy="351.04" r="2.55" fill="#808080" fill-opacity="0.3" stroke="#787878" stroke-opacity="0.5" stroke-width="0.8"/>
<circle cx="1489.72" cy="396.83" r="2.55" fill="#808080" fill-opacity="0.3" stroke="#787878" stroke-opacity="0.5" stroke-width="0.8"/>
<circle cx="1487.93" cy="382.64" r="2.55" fill="#808080" fill-opacity="0.3" stroke="#787878" stroke-opacity="0.5" stroke-width="0.8"/>
<circle cx="1487.5" cy="346.74" r="2.55" fill="#808080" fill-opacity="0.3" stroke="#787878" stroke-opacity="0.5" stroke-width="0.8"/>
<circle cx="1490.39" cy="322.44" r="2.55" fill="#808080" fill-opacity="0.3" stroke="#787878" stroke-opacity="0.5" stroke-width="0.8"/>
<circle cx="1513.13" cy="408.35" r="2.55" fill="#808080" fill-opacity="0.3" stroke="#787878" stroke-opacity="0.5" stroke-width="0.8"/>
<circle cx="1493.12" cy="421.46" r="2.55" fill="#808080" fill-opacity="0.3" stroke="#787878" stroke-opacity="0.5" stroke-width="0.8"/>
<circle cx="1490.32" cy="342.48" r="2.55" fill="#808080" fill-opacity="0.3" stroke="#787878" stroke-opacity="0.5" stroke-width="0.8"/>
<circle cx="1509.63" cy="382.34" r="2.55" fill="#808080" fill-opacity="0.3" stroke="#787878" stroke-opacity="0.5" stroke-width="0.8"/>
<circle cx="1487.01" cy="438.28" r="2.55" fill="#808080" fill-opacity="0.3" stroke="#787878" stroke-opacity="0.5" stroke-width="0.8"/>
<circle cx="1490.4" cy="320.58" r="2.55" fill="#808080" fill-opacity="0.3" stroke="#787878" stroke-opacity="0.5" stroke-width="0.8"/>
<circle cx="1507.18" cy="331.96" r="2.55" fill="#808080" fill-opacity="0.3" stroke="#787878" stroke-opacity="0.5" stroke-width="0.8"/>
<circle cx="1492.89" cy="290.82" r="2.55" fill="#808080" fill-opacity="0.3" stroke="#787878" stroke-opacity="0.5" stroke-width="0.8"/>
<circle cx="1486.7" cy="372.82" r="2.55" fill="#808080" fill-opacity="0.3" stroke="#787878" stroke-opacity="0.5" stroke-width="0.8"/>
<circle cx="1491.29" cy="375.81" r="2.55" fill="#808080" fill-opacity="0.3" stroke="#787878" stroke-opacity="0.5" stroke-width="0.8"/>
<circle cx="1495.15" cy="351.97" r="2.55" fill="#808080" fill-opacity="0.3" stroke="#787878" stroke-opacity="0.5" stroke-width="0.8"/>
<circle cx="1512.77" cy="356.88" r="2.55" fill="#808080" fill-opacity="0.3" stroke="#787878" stroke-opacity="0.5" stroke-width="0.8"/>
<circle cx="1501.24" cy="418.51" r="2.55" fill="#808080" fill-opacity="0.3" stroke="#787878" stroke-opacity="0.5" stroke-width="0.8"/>
<circle cx="1489.48" cy="303.82" r="2.55" fill="#808080" fill-opacity="0.3" stroke="#787878" stroke-opacity="0.5" stroke-width="0.8"/>
<circle cx="1511.25" cy="410.67" r="2.55" fill="#808080" fill-opacity="0.3" stroke="#787878" stroke-opacity="0.5" stroke-width="0.8"/>
<circle cx="1491.48" cy="309.56" r="2.55" fill="#808080" fill-opacity="0.3" stroke="#787878" stroke-opacity="0.5" stroke-width="0.8"/>
<circle cx="1506.18" cy="430.41" r="2.55" fill="#808080" fill-opacity="0.3" stroke="#787878" stroke-opacity="0.5" stroke-width="0.8"/>
<circle cx="1489.9" cy="431.97" r="2.55" fill="#808080" fill-opacity="0.3" stroke="#787878" stroke-opacity="0.5" stroke-width="0.8"/>
<circle cx="1510.47" cy="376.17" r="2.55" fill="#808080" fill-opacity="0.3" stroke="#787878" stroke-opacity="0.5" stroke-width="0.8"/>
<circle cx="1496.64" cy="295.72" r="2.55" fill="#808080" fill-opacity="0.3" stroke="#787878" stroke-opacity="0.5" stroke-width="0.8"/>
<circle cx="1485.16" cy="433.99" r="2.55" fill="#808080" fill-opacity="0.3" stroke="#787878" stroke-opacity="0.5" stroke-width="0.8"/>
<circle cx="1491.15" cy="392.44" r="2.55" fill="#808080" fill-opacity="0.3" stroke="#787878" stroke-opacity="0.5" stroke-width="0.8"/>
<circle cx="1491.71" cy="411.62" r="2.55" fill="#808080" fill-opacity="0.3" stroke="#787878" stroke-opacity="0.5" stroke-width="0.8"/>
<circle cx="1501.89" cy="326.24" r="2.55" fill="#808080" fill-opacity="0.3" stroke="#787878" stroke-opacity="0.5" stroke-width="0.8"/>
<circle cx="1489.26" cy="394.98" r="2.55" fill="#808080" fill-opacity="0.3" stroke="#787878" stroke-opacity="0.5" stroke-width="0.8"/>
<circle cx="1486.06" cy="315.77" r="2.55" fill="#808080" fill-opacity="0.3" stroke="#787878" stroke-opacity="0.5" stroke-width="0.8"/>
<circle cx="1500.78" cy="416.24" r="2.55" fill="#808080" fill-opacity="0.3" stroke="#787878" stroke-opacity="0.5" stroke-width="0.8"/>
<circle cx="1502.43" cy="324.12" r="2.55" fill="#808080" fill-opacity="0.3" stroke="#787878" stroke-opacity="0.5" stroke-width="0.8"/>
<circle cx="1511.52" cy="311.84" r="2.55" fill="#808080" fill-opacity="0.3" stroke="#787878" stroke-opacity="0.5" stroke-width="0.8"/>
<circle cx="1484.5" cy="322.34" r="2.55" fill="#808080" fill-opacity="0.3" stroke="#787878" stroke-opacity="0.5" stroke-width="0.8"/>
<circle cx="1497.37" cy="288.73" r="2.55" fill="#808080" fill-opacity="0.3" stroke="#787878" stroke-opacity="0.5" stroke-width="0.8"/>
<circle cx="1489.29" cy="338.37" r="2.55" fill="#808080" fill-opacity="0.3" stroke="#787878" stroke-opacity="0.5" stroke-width="0.8"/>
<circle cx="1501.17" cy="300.18" r="2.55" fill="#808080" fill-opacity="0.3" stroke="#787878" stroke-opacity="0.5" stroke-width="0.8"/>
<circle cx="1494.86" cy="422.44" r="2.55" fill="#808080" fill-opacity="0.3" stroke="#787878" stroke-opacity="0.5" stroke-width="0.8"/>
<circle cx="1513.41" cy="384.77" r="2.55" fill="#808080" fill-opacity="0.3" stroke="#787878" stroke-opacity="0.5" stroke-width="0.8"/>
<circle cx="1504.74" cy="373.09" r="2.55" fill="#808080" fill-opacity="0.3" stroke="#787878" stroke-opacity="0.5" stroke-width="0.8"/>
<circle cx="1488.21" cy="284.65" r="2.55" fill="#808080" fill-opacity="0.3" stroke="#787878" stroke-opacity="0.5" stroke-width="0.8"/>
<circle cx="1484.54" cy="425.54" r="2.55" fill="#808080" fill-opacity="0.3" stroke="#787878" stroke-opacity="0.5" stroke-width="0.8"/>
<circle cx="1505.03" cy="434.01" r="2.55" fill="#808080" fill-opacity="0.3" stroke="#787878" stroke-opacity="0.5" stroke-width="0.8"/>
<circle cx="1484.64" cy="381.43" r="2.55" fill="#808080" fill-opacity="0.3" stroke="#787878" stroke-opacity="0.5" stroke-width="0.8"/>
<circle cx="1498.47" cy="396.61" r="2.55" fill="#808080" fill-opacity="0.3" stroke="#787878" stroke-opacity="0.5" stroke-width="0.8"/>
<circle cx="1493.57" cy="439.9" r="2.55" fill="#808080" fill-opacity="0.3" stroke="#787878" stroke-opacity="0.5" stroke-width="0.8"/>
<circle cx="1486.26" cy="366.92" r="2.55" fill="#808080" fill-opacity="0.3" stroke="#787878" stroke-opacity="0.5" stroke-width="0.8"/>
<circle cx="1506.11" cy="423.93" r="2.55" fill="#808080" fill-opacity="0.3" stroke="#787878" stroke-opacity="0.5" stroke-width="0.8"/>
<circle cx="1506.11" cy="392.29" r="2.55" fill="#808080" fill-opacity="0.3" stroke="#787878" stroke-opacity="0.5" stroke-width="0.8"/>
<circle cx="1507.8" cy="426.32" r="2.55" fill="#808080" fill-opacity="0.3" stroke="#787878" stroke-opacity="0.5" stroke-width="0.8"/>
<circle cx="1494.56" cy="389.31" r="2.55" fill="#808080" fill-opacity="0.3" stroke="#787878" stroke-opacity="0.5" stroke-width="0.8"/>
<circle cx="1511.03" cy="419.25" r="2.55" fill="#808080" fill-opacity="0.3" stroke="#787878" stroke-opacity="0.5" stroke-width="0.8"/>
<circle cx="1496.51" cy="406.28" r="2.55" fill="#808080" fill-opacity="0.3" stroke="#787878" stroke-opacity="0.5" stroke-width="0.8"/>
<circle cx="1509.9" cy="371.22" r="2.55" fill="#808080" fill-opacity="0.3" stroke="#787878" stroke-opacity="0.5" stroke-width="0.8"/>
<circle cx="1502.75" cy="340.56" r="2.55" fill="#808080" fill-opacity="0.3" stroke="#787878" stroke-opacity="0.5" stroke-width="0.8"/>
<circle cx="1501.48" cy="377.03" r="2.55" fill="#808080" fill-opacity="0.3" stroke="#787878" stroke-opacity="0.5" stroke-width="0.8"/>
<circle cx="1486.41" cy="381.94" r="2.55" fill="#808080" fill-opacity="0.3" stroke="#787878" stroke-opacity="0.5" stroke-width="0.8"/>
<circle cx="1513.8" cy="420.65" r="2.55" fill="#808080" fill-opacity="0.3" stroke="#787878" stroke-opacity="0.5" stroke-width="0.8"/>
<circle cx="1505.85" cy="341.54" r="2.55" fill="#808080" fill-opacity="0.3" stroke="#787878" stroke-opacity="0.5" stroke-width="0.8"/>
<circle cx="1506.05" cy="372.53" r="2.55" fill="#808080" fill-opacity="0.3" stroke="#787878" stroke-opacity="0.5" stroke-width="0.8"/>
<circle cx="1497.22" cy="413.98" r="2.55" fill="#808080" fill-opacity="0.3" stroke="#787878" stroke-opacity="0.5" stroke-width="0.8"/>
<circle cx="1486.51" cy="399.78" r="2.55" fill="#808080" fill-opacity="0.3" stroke="#787878" stroke-opacity="0.5" stroke-width="0.8"/>
<circle cx="1484.89" cy="375.81" r="2.55" fill="#808080" fill-opacity="0.3" stroke="#787878" stroke-opacity="0.5" stroke-width="0.8"/>
<circle cx="1498.43" cy="316.07" r="2.55" fill="#808080" fill-opacity="0.3" stroke="#787878" stroke-opacity="0.5" stroke-width="0.8"/>
<circle cx="1646.36" cy="178.66" r="2.55" fill="#808080" fill-opacity="0.3" stroke="#787878" stroke-opacity="0.5" stroke-width="0.8"/>
<circle cx="1638.44" cy="192.92" r="2.55" fill="#808080" fill-opacity="0.3" stroke="#787878" stroke-opacity="0.5" stroke-width="0.8"/>
<circle cx="1665.37" cy="206.54" r="2.55" fill="#808080" fill-opacity="0.3" stroke="#787878" stroke-opacity="0.5" stroke-width="0.8"/>
<circle cx="1653.33" cy="208.76" r="2.55" fill="#808080" fill-opacity="0.3" stroke="#787878" stroke-opacity="0.5" stroke-width="0.8"/>
<circle cx="1659.04" cy="221.75" r="2.55" fill="#808080" fill-opacity="0.3" stroke="#787878" stroke-opacity="0.5" stroke-width="0.8"/>
<circle cx="1642.24" cy="239.81" r="2.55" fill="#808080" fill-opacity="0.3" stroke="#787878" stroke-opacity="0.5" stroke-width="0.8"/>
<circle cx="1663.79" cy="267.69" r="2.55" fill="#808080" fill-opacity="0.3" stroke="#787878" stroke-opacity="0.5" stroke-width="0.8"/>
<circle cx="1637.81" cy="311.42" r="2.55" fill="#808080" fill-opacity="0.3" stroke="#787878" stroke-opacity="0.5" stroke-width="0.8"/>
<circle cx="1649.53" cy="306.98" r="2.55" fill="#808080" fill-opacity="0.3" stroke="#787878" stroke-opacity="0.5" stroke-width="0.8"/>
<circle cx="1662.21" cy="306.98" r="2.55" fill="#808080" fill-opacity="0.3" stroke="#787878" stroke-opacity="0.5" stroke-width="0.8"/>
<circle cx="1666.32" cy="306.98" r="2.55" fill="#808080" fill-opacity="0.3" stroke="#787878" stroke-opacity="0.5" stroke-width="0.8"/>
<circle cx="1667.59" cy="337.08" r="2.55" fill="#808080" fill-opacity="0.3" stroke="#787878" stroke-opacity="0.5" stroke-width="0.8"/>
<circle cx="1662.21" cy="343.74" r="2.55" fill="#808080" fill-opacity="0.3" stroke="#787878" stroke-opacity="0.5" stroke-width="0.8"/>
<circle cx="1640.03" cy="350.71" r="2.55" fill="#808080" fill-opacity="0.3" stroke="#787878" stroke-opacity="0.5" stroke-width="0.8"/>
<circle cx="1647.95" cy="351.66" r="2.55" fill="#808080" fill-opacity="0.3" stroke="#787878" stroke-opacity="0.5" stroke-width="0.8"/>
<circle cx="1663.79" cy="349.76" r="2.55" fill="#808080" fill-opacity="0.3" stroke="#787878" stroke-opacity="0.5" stroke-width="0.8"/>
<circle cx="1642.24" cy="390.95" r="2.55" fill="#808080" fill-opacity="0.3" stroke="#787878" stroke-opacity="0.5" stroke-width="0.8"/>
<circle cx="1667.91" cy="389.68" r="2.55" fill="#808080" fill-opacity="0.3" stroke="#787878" stroke-opacity="0.5" stroke-width="0.8"/>
<circle cx="1651.12" cy="403.62" r="2.55" fill="#808080" fill-opacity="0.3" stroke="#787878" stroke-opacity="0.5" stroke-width="0.8"/>
<circle cx="1644.78" cy="415.03" r="2.55" fill="#808080" fill-opacity="0.3" stroke="#787878" stroke-opacity="0.5" stroke-width="0.8"/>
<circle cx="1652.07" cy="413.13" r="2.55" fill="#808080" fill-opacity="0.3" stroke="#787878" stroke-opacity="0.5" stroke-width="0.8"/>
<circle cx="1659.99" cy="434.04" r="2.55" fill="#808080" fill-opacity="0.3" stroke="#787878" stroke-opacity="0.5" stroke-width="0.8"/>
<circle cx="1666.96" cy="439.43" r="2.55" fill="#808080" fill-opacity="0.3" stroke="#787878" stroke-opacity="0.5" stroke-width="0.8"/>
<circle cx="1659.04" cy="442.6" r="2.55" fill="#808080" fill-opacity="0.3" stroke="#787878" stroke-opacity="0.5" stroke-width="0.8"/>
<circle cx="1649.53" cy="448.94" r="2.55" fill="#808080" fill-opacity="0.3" stroke="#787878" stroke-opacity="0.5" stroke-width="0.8"/>
<circle cx="1662.21" cy="452.1" r="2.55" fill="#808080" fill-opacity="0.3" stroke="#787878" stroke-opacity="0.5" stroke-width="0.8"/>
<circle cx="1643.19" cy="457.49" r="2.55" fill="#808080" fill-opacity="0.3" stroke="#787878" stroke-opacity="0.5" stroke-width="0.8"/>
<circle cx="1662.21" cy="461.61" r="2.55" fill="#808080" fill-opacity="0.3" stroke="#787878" stroke-opacity="0.5" stroke-width="0.8"/>
<circle cx="1660.62" cy="466.36" r="2.55" fill="#808080" fill-opacity="0.3" stroke="#787878" stroke-opacity="0.5" stroke-width="0.8"/>
<circle cx="1651.12" cy="469.53" r="2.55" fill="#808080" fill-opacity="0.3" stroke="#787878" stroke-opacity="0.5" stroke-width="0.8"/>
<circle cx="1651.12" cy="473.33" r="2.55" fill="#808080" fill-opacity="0.3" stroke="#787878" stroke-opacity="0.5" stroke-width="0.8"/>
<circle cx="1664.74" cy="481.57" r="2.55" fill="#808080" fill-opacity="0.3" stroke="#787878" stroke-opacity="0.5" stroke-width="0.8"/>
<circle cx="1646.36" cy="486.96" r="2.55" fill="#808080" fill-opacity="0.3" stroke="#787878" stroke-opacity="0.5" stroke-width="0.8"/>
<circle cx="1654.28" cy="487.91" r="2.55" fill="#808080" fill-opacity="0.3" stroke="#787878" stroke-opacity="0.5" stroke-width="0.8"/>
<circle cx="1647.95" cy="493.3" r="2.55" fill="#808080" fill-opacity="0.3" stroke="#787878" stroke-opacity="0.5" stroke-width="0.8"/>
<circle cx="1641.61" cy="494.25" r="2.55" fill="#808080" fill-opacity="0.3" stroke="#787878" stroke-opacity="0.5" stroke-width="0.8"/>
<circle cx="1652.7" cy="494.25" r="2.55" fill="#808080" fill-opacity="0.3" stroke="#787878" stroke-opacity="0.5" stroke-width="0.8"/>
<circle cx="1647.95" cy="499.63" r="2.55" fill="#808080" fill-opacity="0.3" stroke="#787878" stroke-opacity="0.5" stroke-width="0.8"/>
<circle cx="1660.62" cy="499.63" r="2.55" fill="#808080" fill-opacity="0.3" stroke="#787878" stroke-opacity="0.5" stroke-width="0.8"/>
<circle cx="1662.21" cy="501.22" r="2.55" fill="#808080" fill-opacity="0.3" stroke="#787878" stroke-opacity="0.5" stroke-width="0.8"/>
<circle cx="1639.07" cy="506.92" r="2.55" fill="#808080" fill-opacity="0.3" stroke="#787878" stroke-opacity="0.5" stroke-width="0.8"/>
<circle cx="1647.95" cy="508.5" r="2.55" fill="#808080" fill-opacity="0.3" stroke="#787878" stroke-opacity="0.5" stroke-width="0.8"/>
<circle cx="1657.45" cy="510.09" r="2.55" fill="#808080" fill-opacity="0.3" stroke="#787878" stroke-opacity="0.5" stroke-width="0.8"/>
<circle cx="1640.66" cy="513.89" r="2.55" fill="#808080" fill-opacity="0.3" stroke="#787878" stroke-opacity="0.5" stroke-width="0.8"/>
<text x="1395.5" y="532.95" font-size="20.0" text-anchor="end" fill="#4D4D4D">0</text>
<text x="1395.5" y="441.89" font-size="20.0" text-anchor="end" fill="#4D4D4D">25</text>
<text x="1395.5" y="350.83" font-size="20.0" text-anchor="end" fill="#4D4D4D">50</text>
<text x="1395.5" y="259.76" font-size="20.0" text-anchor="end" fill="#4D4D4D">75</text>
<text x="1395.5" y="168.7" font-size="20.0" text-anchor="end" fill="#4D4D4D">100</text>
<text x="1500" y="561.2" font-size="20.0" text-anchor="middle" fill="#4D4D4D">Unimpaired</text>
<text x="1653.7" y="561.2" font-size="20.0" text-anchor="middle" fill="#4D4D4D">Impaired</text>
<text x="1576.95" y="601.5" font-size="25.0" text-anchor="middle" fill="#000">Mini-Cog Status</text>
<text x="1352.2" y="346.45" font-size="25.0" text-anchor="middle" fill="#000" transform="rotate(-90 1352.2 346.45)">DCTclock Score (0–100)</text>
<text x="1548.6" y="23" font-size="29.95" text-anchor="middle" fill="#000">C.DCTclock Score by</text>
<text x="1547.1" y="55.4" font-size="29.95" text-anchor="middle" fill="#000">Mini-Cog Status</text>
<text x="90.6" y="652.9" font-size="29.95" text-anchor="start" fill="#000">D. DCTclock Subdomain Scores by Mini-Cog Status</text>
<text x="682" y="709.9" font-size="24.85" text-anchor="start" fill="#000">Mini-Cog Status</text>
<line x1="888.8" y1="687.9" x2="888.8" y2="714.1" stroke="#333333" stroke-width="1.8"/>
<rect x="876.6" y="693.6" width="24.4" height="15.4" fill="#4BAC7E" stroke="#333333" stroke-width="1.8"/>
<line x1="877.5" y1="701.3" x2="900.1" y2="701.3" stroke="#333333" stroke-width="1.8"/>
<text x="918.6" y="708.9" font-size="19.6" text-anchor="start" fill="#000">Unimpaired</text>
<line x1="1048.8" y1="687.9" x2="1048.8" y2="714.1" stroke="#333333" stroke-width="1.8"/>
<rect x="1036.6" y="693.6" width="24.4" height="15.4" fill="#D9631F" stroke="#333333" stroke-width="1.8"/>
<line x1="1037.5" y1="701.3" x2="1060.1" y2="701.3" stroke="#333333" stroke-width="1.8"/>
<text x="1078" y="708.9" font-size="19.6" text-anchor="start" fill="#000">Impaired</text>
<text x="918.6" y="785" font-size="24.7" text-anchor="middle" font-weight="bold" fill="#000">Command</text>
<text x="918.6" y="1153.5" font-size="25.0" text-anchor="middle" font-weight="bold" fill="#000">Copy</text>
<line x1="91.8" y1="820.8" x2="1746" y2="820.8" stroke="#EBEBEB" stroke-width="1.0"/>
<line x1="91.8" y1="862.6" x2="1746" y2="862.6" stroke="#EBEBEB" stroke-width="2.0"/>
<line x1="91.8" y1="904.4" x2="1746" y2="904.4" stroke="#EBEBEB" stroke-width="1.0"/>
<line x1="91.8" y1="945.9" x2="1746" y2="945.9" stroke="#EBEBEB" stroke-width="2.0"/>
<line x1="91.8" y1="987.5" x2="1746" y2="987.5" stroke="#EBEBEB" stroke-width="1.0"/>
<line x1="91.8" y1="1029.1" x2="1746" y2="1029.1" stroke="#EBEBEB" stroke-width="2.0"/>
<line x1="91.8" y1="1071" x2="1746" y2="1071" stroke="#EBEBEB" stroke-width="1.0"/>
<line x1="269.1" y1="850.5" x2="269.1" y2="903.1" stroke="#333333" stroke-width="1.8"/>
<line x1="269.1" y1="960.8" x2="269.1" y2="1048.6" stroke="#333333" stroke-width="1.8"/>
<rect x="216.1" y="903" width="106" height="57.9" fill="#4BAC7E" stroke="#333333" stroke-width="1.8"/>
<line x1="217" y1="925.9" x2="321.2" y2="925.9" stroke="#333333" stroke-width="3.6"/>
<line x1="387.2" y1="867.2" x2="387.2" y2="915.2" stroke="#333333" stroke-width="1.8"/>
<line x1="387.2" y1="980.8" x2="387.2" y2="1039.8" stroke="#333333" stroke-width="1.8"/>
<rect x="334.5" y="915.1" width="105.6" height="65.8" fill="#D9631F" stroke="#333333" stroke-width="1.8"/>
<line x1="335.4" y1="948.1" x2="439.2" y2="948.1" stroke="#333333" stroke-width="3.6"/>
<line x1="663" y1="854" x2="663" y2="908.4" stroke="#333333" stroke-width="1.8"/>
<line x1="663" y1="951.2" x2="663" y2="1017" stroke="#333333" stroke-width="1.8"/>
<rect x="610" y="908.3" width="106" height="43" fill="#4BAC7E" stroke="#333333" stroke-width="1.8"/>
<line x1="610.9" y1="932" x2="715.1" y2="932" stroke="#333333" stroke-width="3.6"/>
<line x1="781" y1="841.4" x2="781" y2="913" stroke="#333333" stroke-width="1.8"/>
<line x1="781" y1="981.7" x2="781" y2="1047.1" stroke="#333333" stroke-width="1.8"/>
<rect x="728.3" y="912.9" width="105.6" height="68.9" fill="#D9631F" stroke="#333333" stroke-width="1.8"/>
<line x1="729.2" y1="955.7" x2="833" y2="955.7" stroke="#333333" stroke-width="3.6"/>
<line x1="1056.8" y1="857" x2="1056.8" y2="904.3" stroke="#333333" stroke-width="1.8"/>
<line x1="1056.8" y1="947.9" x2="1056.8" y2="999.7" stroke="#333333" stroke-width="1.8"/>
<rect x="1003.8" y="904.2" width="106" height="43.8" fill="#4BAC7E" stroke="#333333" stroke-width="1.8"/>
<line x1="1004.7" y1="925.3" x2="1108.9" y2="925.3" stroke="#333333" stroke-width="3.6"/>
<line x1="1174.9" y1="868.3" x2="1174.9" y2="904.6" stroke="#333333" stroke-width="1.8"/>
<line x1="1174.9" y1="952.3" x2="1174.9" y2="1022.8" stroke="#333333" stroke-width="1.8"/>
<rect x="1122.2" y="904.5" width="105.7" height="47.9" fill="#D9631F" stroke="#333333" stroke-width="1.8"/>
<line x1="1123.1" y1="929" x2="1227" y2="929" stroke="#333333" stroke-width="3.6"/>
<line x1="1450.6" y1="835.5" x2="1450.6" y2="883.8" stroke="#333333" stroke-width="1.8"/>
<line x1="1450.6" y1="994.4" x2="1450.6" y2="1094.8" stroke="#333333" stroke-width="1.8"/>
<rect x="1397.5" y="883.7" width="105.8" height="110.8" fill="#4BAC7E" stroke="#333333" stroke-width="1.8"/>
<line x1="1398.4" y1="930.7" x2="1502.4" y2="930.7" stroke="#333333" stroke-width="3.6"/>
<line x1="1568.9" y1="838.3" x2="1568.9" y2="935" stroke="#333333" stroke-width="1.8"/>
<line x1="1568.9" y1="1058.7" x2="1568.9" y2="1096.6" stroke="#333333" stroke-width="1.8"/>
<rect x="1516.2" y="934.9" width="105.7" height="123.9" fill="#D9631F" stroke="#333333" stroke-width="1.8"/>
<line x1="1517.1" y1="999.6" x2="1621" y2="999.6" stroke="#333333" stroke-width="3.6"/>
<clipPath id="clipD1"><rect x="91.8" y="797.7" width="1654.2" height="400"/></clipPath>
<text x="328.15" y="811.8" font-size="21.9" text-anchor="middle" fill="#000" clip-path="url(#clipD1)">p = 0.046</text>
<text x="721.95" y="811.8" font-size="21.9" text-anchor="middle" fill="#000" clip-path="url(#clipD1)">p = 0.010</text>
<text x="1115.8" y="811.8" font-size="21.9" text-anchor="middle" fill="#000" clip-path="url(#clipD1)">p = 0.737</text>
<text x="1509.6" y="811.8" font-size="21.9" text-anchor="middle" fill="#000" clip-path="url(#clipD1)">p = 7.9e-05</text>
<line x1="91.8" y1="1188.4" x2="1746" y2="1188.4" stroke="#EBEBEB" stroke-width="1.0"/>
<line x1="91.8" y1="1229.6" x2="1746" y2="1229.6" stroke="#EBEBEB" stroke-width="2.0"/>
<line x1="91.8" y1="1270.8" x2="1746" y2="1270.8" stroke="#EBEBEB" stroke-width="1.0"/>
<line x1="91.8" y1="1311.7" x2="1746" y2="1311.7" stroke="#EBEBEB" stroke-width="2.0"/>
<line x1="91.8" y1="1353" x2="1746" y2="1353" stroke="#EBEBEB" stroke-width="1.0"/>
<line x1="91.8" y1="1394" x2="1746" y2="1394" stroke="#EBEBEB" stroke-width="2.0"/>
<line x1="91.8" y1="1435.3" x2="1746" y2="1435.3" stroke="#EBEBEB" stroke-width="1.0"/>
<line x1="91.8" y1="1476.4" x2="1746" y2="1476.4" stroke="#EBEBEB" stroke-width="2.0"/>
<line x1="269.1" y1="1239.3" x2="269.1" y2="1276.3" stroke="#333333" stroke-width="1.8"/>
<line x1="269.1" y1="1319.3" x2="269.1" y2="1384.2" stroke="#333333" stroke-width="1.8"/>
<rect x="216.1" y="1276.2" width="105.7" height="43.2" fill="#4BAC7E" stroke="#333333" stroke-width="1.8"/>
<line x1="217" y1="1292.1" x2="320.9" y2="1292.1" stroke="#333333" stroke-width="3.6"/>
<line x1="387.2" y1="1236.6" x2="387.2" y2="1283.4" stroke="#333333" stroke-width="1.8"/>
<line x1="387.2" y1="1354.2" x2="387.2" y2="1418.3" stroke="#333333" stroke-width="1.8"/>
<rect x="334.3" y="1283.3" width="105.8" height="71" fill="#D9631F" stroke="#333333" stroke-width="1.8"/>
<line x1="335.2" y1="1304.2" x2="439.2" y2="1304.2" stroke="#333333" stroke-width="3.6"/>
<line x1="662.6" y1="1221.9" x2="662.6" y2="1282.4" stroke="#333333" stroke-width="1.8"/>
<line x1="662.6" y1="1339.3" x2="662.6" y2="1419.8" stroke="#333333" stroke-width="1.8"/>
<rect x="609.9" y="1282.3" width="106" height="57.1" fill="#4BAC7E" stroke="#333333" stroke-width="1.8"/>
<line x1="610.8" y1="1309" x2="715" y2="1309" stroke="#333333" stroke-width="3.6"/>
<line x1="781.1" y1="1238.9" x2="781.1" y2="1304.2" stroke="#333333" stroke-width="1.8"/>
<line x1="781.1" y1="1358" x2="781.1" y2="1426.1" stroke="#333333" stroke-width="1.8"/>
<rect x="728.2" y="1304.1" width="105.6" height="54" fill="#D9631F" stroke="#333333" stroke-width="1.8"/>
<line x1="729.1" y1="1329.6" x2="832.9" y2="1329.6" stroke="#333333" stroke-width="3.6"/>
<line x1="1056.8" y1="1243.8" x2="1056.8" y2="1281.4" stroke="#333333" stroke-width="1.8"/>
<line x1="1056.8" y1="1314.3" x2="1056.8" y2="1363.8" stroke="#333333" stroke-width="1.8"/>
<rect x="1003.8" y="1281.3" width="106.1" height="33.1" fill="#4BAC7E" stroke="#333333" stroke-width="1.8"/>
<line x1="1004.7" y1="1297.4" x2="1109" y2="1297.4" stroke="#333333" stroke-width="3.6"/>
<line x1="1174.8" y1="1246.6" x2="1174.8" y2="1282.4" stroke="#333333" stroke-width="1.8"/>
<line x1="1174.8" y1="1317.1" x2="1174.8" y2="1359.3" stroke="#333333" stroke-width="1.8"/>
<rect x="1122.1" y="1282.3" width="105.9" height="34.9" fill="#D9631F" stroke="#333333" stroke-width="1.8"/>
<line x1="1123" y1="1301.2" x2="1227.1" y2="1301.2" stroke="#333333" stroke-width="3.6"/>
<line x1="1450.5" y1="1180.6" x2="1450.5" y2="1247.1" stroke="#333333" stroke-width="1.8"/>
<line x1="1450.5" y1="1370.5" x2="1450.5" y2="1453.3" stroke="#333333" stroke-width="1.8"/>
<rect x="1397.8" y="1247" width="105.6" height="123.6" fill="#4BAC7E" stroke="#333333" stroke-width="1.8"/>
<line x1="1398.7" y1="1298.5" x2="1502.5" y2="1298.5" stroke="#333333" stroke-width="3.6"/>
<line x1="1568.7" y1="1200.1" x2="1568.7" y2="1282.5" stroke="#333333" stroke-width="1.8"/>
<line x1="1568.7" y1="1405.7" x2="1568.7" y2="1465" stroke="#333333" stroke-width="1.8"/>
<rect x="1516.2" y="1282.4" width="105.6" height="123.4" fill="#D9631F" stroke="#333333" stroke-width="1.8"/>
<line x1="1517.1" y1="1344.3" x2="1620.9" y2="1344.3" stroke="#333333" stroke-width="3.6"/>
<clipPath id="clipD2"><rect x="91.8" y="1166.3" width="1654.2" height="400"/></clipPath>
<text x="328.15" y="1180.2" font-size="21.9" text-anchor="middle" fill="#000" clip-path="url(#clipD2)">p = 0.057</text>
<text x="721.95" y="1180.2" font-size="21.9" text-anchor="middle" fill="#000" clip-path="url(#clipD2)">p = 0.004</text>
<text x="1115.8" y="1180.2" font-size="21.9" text-anchor="middle" fill="#000" clip-path="url(#clipD2)">p = 0.473</text>
<text x="1509.6" y="1180.2" font-size="21.9" text-anchor="middle" fill="#000" clip-path="url(#clipD2)">p = 0.013</text>
<text x="80.5" y="870.2" font-size="22.85" text-anchor="end" fill="#4D4D4D">75</text>
<text x="80.5" y="953.5" font-size="22.85" text-anchor="end" fill="#4D4D4D">50</text>
<text x="80.5" y="1036.7" font-size="22.85" text-anchor="end" fill="#4D4D4D">25</text>
<text x="80.5" y="1237.2" font-size="22.85" text-anchor="end" fill="#4D4D4D">75</text>
<text x="80.5" y="1319.3" font-size="22.85" text-anchor="end" fill="#4D4D4D">50</text>
<text x="80.5" y="1401.6" font-size="22.85" text-anchor="end" fill="#4D4D4D">25</text>
<text x="80.5" y="1484" font-size="22.85" text-anchor="end" fill="#4D4D4D">0</text>
<text x="328.15" y="1507.1" font-size="22.85" text-anchor="middle" fill="#4D4D4D">Drawing Efficiency</text>
<text x="721.95" y="1507.1" font-size="22.85" text-anchor="middle" fill="#4D4D4D">Information Processing</text>
<text x="1115.8" y="1507.1" font-size="22.85" text-anchor="middle" fill="#4D4D4D">Motor</text>
<text x="1509.6" y="1507.1" font-size="22.85" text-anchor="middle" fill="#4D4D4D">Spatial Reasoning</text>
<text x="20.2" y="1137.6" font-size="24.95" text-anchor="middle" fill="#000" transform="rotate(-90 20.2 1137.6)">DCTclock Subdomain Score</text>
</svg>
</body></html>
